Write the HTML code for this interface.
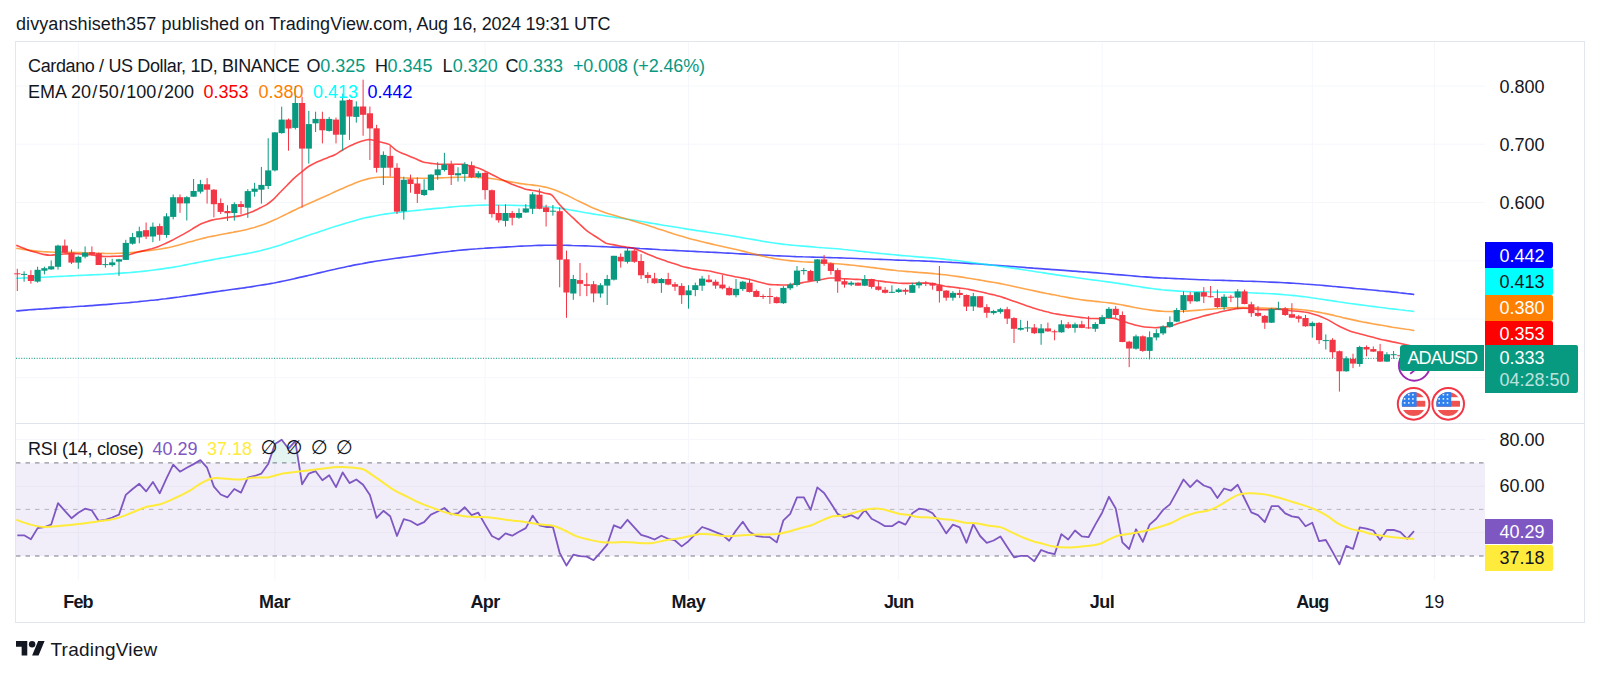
<!DOCTYPE html>
<html><head><meta charset="utf-8"><title>ADAUSD chart</title>
<style>
html,body{margin:0;padding:0;background:#fff;}
body{width:1600px;height:675px;position:relative;overflow:hidden;font-family:"Liberation Sans",sans-serif;color:#131722;}
.t{position:absolute;white-space:nowrap;font-size:18px;line-height:22px;}
.t i{font-style:normal;padding:0 1.3px;}
.nl{font-size:19.5px;top:437.1px;transform:translateX(-50%);font-family:"DejaVu Sans",sans-serif;}
.frame{position:absolute;left:15px;top:41px;width:1568px;height:580px;border:1px solid #e3e6ed;}
svg.chart{position:absolute;left:0;top:0;}
.lbl{position:absolute;left:1485px;width:68px;height:26px;line-height:26px;font-size:18px;color:#fff;border-radius:0 2px 2px 0;}
.lbl span{position:absolute;left:14.5px;top:0.8px;}
.ax{position:absolute;left:1499.5px;font-size:18px;line-height:22px;white-space:nowrap;}
.mon{position:absolute;font-size:18px;font-weight:bold;line-height:22px;top:591px;transform:translateX(-50%);white-space:nowrap;}
</style></head><body>
<div class="t" id="hdr" style="left:16px;top:13px;letter-spacing:0.08px;">divyanshiseth357 published on TradingView.com,</div>
<div class="t" id="hdr2" style="left:416.5px;top:13px;letter-spacing:-0.24px;">Aug 16, 2024 19:31 UTC</div>
<div class="frame"></div>
<svg class="chart" width="1600" height="675" viewBox="0 0 1600 675">
<line x1="16" x2="1485" y1="86" y2="86" stroke="#f5f7fb" stroke-width="1"/>
<line x1="16" x2="1485" y1="144.2" y2="144.2" stroke="#f5f7fb" stroke-width="1"/>
<line x1="16" x2="1485" y1="202.5" y2="202.5" stroke="#f5f7fb" stroke-width="1"/>
<line x1="16" x2="1485" y1="260.8" y2="260.8" stroke="#f5f7fb" stroke-width="1"/>
<line x1="16" x2="1485" y1="319" y2="319" stroke="#f5f7fb" stroke-width="1"/>
<line x1="16" x2="1485" y1="377.5" y2="377.5" stroke="#f5f7fb" stroke-width="1"/>
<line x1="16" x2="1485" y1="439.6" y2="439.6" stroke="#f5f7fb" stroke-width="1"/>
<line x1="16" x2="1485" y1="486.2" y2="486.2" stroke="#f5f7fb" stroke-width="1"/>
<line x1="16" x2="1485" y1="532.7" y2="532.7" stroke="#f5f7fb" stroke-width="1"/>
<line x1="78.3" x2="78.3" y1="42" y2="580" stroke="#f5f7fb" stroke-width="1"/>
<line x1="274.9" x2="274.9" y1="42" y2="580" stroke="#f5f7fb" stroke-width="1"/>
<line x1="485.1" x2="485.1" y1="42" y2="580" stroke="#f5f7fb" stroke-width="1"/>
<line x1="688.5" x2="688.5" y1="42" y2="580" stroke="#f5f7fb" stroke-width="1"/>
<line x1="898.7" x2="898.7" y1="42" y2="580" stroke="#f5f7fb" stroke-width="1"/>
<line x1="1102.1" x2="1102.1" y1="42" y2="580" stroke="#f5f7fb" stroke-width="1"/>
<line x1="1312.3" x2="1312.3" y1="42" y2="580" stroke="#f5f7fb" stroke-width="1"/>
<line x1="1434.3" x2="1434.3" y1="42" y2="580" stroke="#f5f7fb" stroke-width="1"/>
<line x1="16" x2="1584" y1="423.5" y2="423.5" stroke="#e0e3eb" stroke-width="1"/>
<rect x="16" y="462.9" width="1469" height="93.1" fill="#7e57c2" fill-opacity="0.1"/>
<line x1="16" x2="1485" y1="462.9" y2="462.9" stroke="#787b86" stroke-width="1" stroke-dasharray="4.5,5"/>
<line x1="16" x2="1485" y1="509.4" y2="509.4" stroke="#787b86" stroke-opacity="0.5" stroke-width="1" stroke-dasharray="4.5,5"/>
<line x1="16" x2="1485" y1="556.0" y2="556.0" stroke="#787b86" stroke-width="1" stroke-dasharray="4.5,5"/>
<line x1="16" x2="1400" y1="358.3" y2="358.3" stroke="#089981" stroke-width="1" stroke-dasharray="1.1,1.48"/>
<path d="M16.2,310.9 C17.4,310.9 20.8,310.6 23.0,310.4 C25.3,310.2 27.5,310.0 29.8,309.8 C32.1,309.7 34.3,309.5 36.6,309.3 C38.8,309.2 41.1,309.0 43.4,308.9 C45.6,308.7 47.9,308.5 50.1,308.4 C52.4,308.2 54.7,308.1 56.9,307.9 C59.2,307.7 61.4,307.6 63.7,307.4 C66.0,307.3 68.2,307.1 70.5,307.0 C72.7,306.8 75.0,306.7 77.3,306.5 C79.5,306.4 81.8,306.2 84.0,306.1 C86.3,305.9 88.6,305.8 90.8,305.6 C93.1,305.4 95.3,305.3 97.6,305.1 C99.9,305.0 102.1,304.8 104.4,304.6 C106.6,304.4 108.9,304.3 111.2,304.1 C113.4,303.9 115.7,303.7 117.9,303.5 C120.2,303.4 122.5,303.2 124.7,303.0 C127.0,302.8 129.2,302.6 131.5,302.4 C133.8,302.2 136.0,301.9 138.3,301.7 C140.5,301.5 142.8,301.3 145.1,301.0 C147.3,300.8 149.6,300.6 151.8,300.3 C154.1,300.1 156.4,299.8 158.6,299.6 C160.9,299.3 163.1,299.0 165.4,298.8 C167.7,298.5 169.9,298.2 172.2,297.9 C174.4,297.6 176.7,297.3 179.0,297.0 C181.2,296.7 183.5,296.4 185.7,296.1 C188.0,295.8 190.3,295.4 192.5,295.1 C194.8,294.8 197.0,294.5 199.3,294.1 C201.6,293.8 203.8,293.4 206.1,293.1 C208.3,292.8 210.6,292.4 212.9,292.1 C215.1,291.8 217.4,291.5 219.6,291.2 C221.9,290.9 224.2,290.5 226.4,290.2 C228.7,289.9 230.9,289.6 233.2,289.3 C235.5,289.0 237.7,288.7 240.0,288.4 C242.2,288.1 244.5,287.8 246.8,287.4 C249.0,287.1 251.3,286.8 253.5,286.4 C255.8,286.1 258.1,285.7 260.3,285.3 C262.6,285.0 264.8,284.6 267.1,284.2 C269.4,283.8 271.6,283.4 273.9,283.0 C276.1,282.5 278.4,282.1 280.7,281.6 C282.9,281.2 285.2,280.7 287.4,280.2 C289.7,279.7 292.0,279.2 294.2,278.7 C296.5,278.2 298.7,277.6 301.0,277.1 C303.3,276.6 305.5,276.1 307.8,275.6 C310.0,275.0 312.3,274.5 314.6,274.0 C316.8,273.4 319.1,272.9 321.3,272.4 C323.6,271.9 325.9,271.3 328.1,270.8 C330.4,270.3 332.6,269.8 334.9,269.3 C337.2,268.7 339.4,268.2 341.7,267.7 C343.9,267.2 346.2,266.8 348.5,266.3 C350.7,265.8 353.0,265.4 355.2,264.9 C357.5,264.5 359.8,264.1 362.0,263.7 C364.3,263.2 366.5,262.8 368.8,262.4 C371.1,262.0 373.3,261.7 375.6,261.3 C377.8,260.9 380.1,260.6 382.4,260.2 C384.6,259.9 386.9,259.5 389.1,259.2 C391.4,258.9 393.7,258.6 395.9,258.3 C398.2,258.0 400.4,257.7 402.7,257.4 C405.0,257.1 407.2,256.8 409.5,256.5 C411.7,256.2 414.0,255.9 416.3,255.6 C418.5,255.3 420.8,255.0 423.0,254.7 C425.3,254.4 427.6,254.1 429.8,253.8 C432.1,253.5 434.3,253.2 436.6,252.9 C438.9,252.6 441.1,252.3 443.4,252.0 C445.6,251.8 447.9,251.5 450.2,251.3 C452.4,251.0 454.7,250.8 456.9,250.5 C459.2,250.3 461.5,250.1 463.7,249.9 C466.0,249.7 468.2,249.5 470.5,249.3 C472.8,249.1 475.0,248.9 477.3,248.8 C479.5,248.6 481.8,248.4 484.1,248.3 C486.3,248.1 488.6,248.0 490.8,247.9 C493.1,247.7 495.4,247.6 497.6,247.5 C499.9,247.3 502.1,247.2 504.4,247.1 C506.7,247.0 508.9,246.8 511.2,246.7 C513.4,246.6 515.7,246.5 518.0,246.3 C520.2,246.2 522.5,246.1 524.7,246.0 C527.0,245.9 529.3,245.8 531.5,245.7 C533.8,245.6 536.0,245.5 538.3,245.4 C540.6,245.4 542.8,245.3 545.1,245.3 C547.3,245.2 549.6,245.2 551.9,245.2 C554.1,245.2 556.4,245.2 558.6,245.2 C560.9,245.3 563.2,245.3 565.4,245.3 C567.7,245.4 569.9,245.4 572.2,245.5 C574.5,245.5 576.7,245.6 579.0,245.7 C581.2,245.7 583.5,245.8 585.8,245.9 C588.0,246.0 590.3,246.1 592.5,246.2 C594.8,246.3 597.1,246.4 599.3,246.5 C601.6,246.6 603.8,246.7 606.1,246.8 C608.4,246.9 610.6,247.0 612.9,247.1 C615.1,247.2 617.4,247.3 619.7,247.4 C621.9,247.5 624.2,247.6 626.4,247.7 C628.7,247.8 631.0,248.0 633.2,248.1 C635.5,248.2 637.7,248.3 640.0,248.5 C642.3,248.6 644.5,248.7 646.8,248.9 C649.0,249.0 651.3,249.1 653.6,249.3 C655.8,249.4 658.1,249.5 660.3,249.7 C662.6,249.8 664.9,249.9 667.1,250.1 C669.4,250.2 671.6,250.3 673.9,250.4 C676.2,250.5 678.4,250.7 680.7,250.8 C682.9,250.9 685.2,251.0 687.5,251.1 C689.7,251.2 692.0,251.3 694.2,251.4 C696.5,251.6 698.8,251.7 701.0,251.8 C703.3,251.9 705.5,252.0 707.8,252.1 C710.1,252.2 712.3,252.3 714.6,252.4 C716.8,252.5 719.1,252.6 721.4,252.7 C723.6,252.9 725.9,253.0 728.1,253.1 C730.4,253.2 732.7,253.4 734.9,253.5 C737.2,253.6 739.4,253.8 741.7,253.9 C744.0,254.0 746.2,254.1 748.5,254.3 C750.7,254.4 753.0,254.5 755.3,254.6 C757.5,254.8 759.8,254.9 762.0,255.0 C764.3,255.1 766.6,255.2 768.8,255.3 C771.1,255.5 773.3,255.6 775.6,255.7 C777.9,255.8 780.1,255.9 782.4,256.0 C784.6,256.1 786.9,256.2 789.2,256.3 C791.4,256.4 793.7,256.5 795.9,256.6 C798.2,256.6 800.5,256.7 802.7,256.8 C805.0,256.8 807.2,256.9 809.5,257.0 C811.8,257.1 814.0,257.1 816.3,257.2 C818.5,257.3 820.8,257.3 823.1,257.4 C825.3,257.5 827.6,257.5 829.8,257.6 C832.1,257.7 834.4,257.7 836.6,257.8 C838.9,257.9 841.1,257.9 843.4,258.0 C845.7,258.1 847.9,258.2 850.2,258.2 C852.4,258.3 854.7,258.4 857.0,258.5 C859.2,258.6 861.5,258.7 863.7,258.7 C866.0,258.8 868.3,258.9 870.5,259.0 C872.8,259.1 875.0,259.2 877.3,259.2 C879.6,259.3 881.8,259.4 884.1,259.5 C886.3,259.6 888.6,259.7 890.9,259.8 C893.1,259.9 895.4,260.0 897.6,260.1 C899.9,260.2 902.2,260.2 904.4,260.3 C906.7,260.4 908.9,260.5 911.2,260.6 C913.5,260.7 915.7,260.8 918.0,260.8 C920.2,260.9 922.5,261.0 924.8,261.1 C927.0,261.2 929.3,261.3 931.5,261.4 C933.8,261.5 936.1,261.6 938.3,261.7 C940.6,261.8 942.8,261.9 945.1,262.0 C947.4,262.1 949.6,262.2 951.9,262.4 C954.1,262.5 956.4,262.6 958.7,262.7 C960.9,262.9 963.2,263.0 965.4,263.1 C967.7,263.3 970.0,263.4 972.2,263.6 C974.5,263.7 976.7,263.9 979.0,264.0 C981.3,264.2 983.5,264.3 985.8,264.5 C988.0,264.7 990.3,264.8 992.6,265.0 C994.8,265.1 997.1,265.3 999.3,265.5 C1001.6,265.7 1003.9,265.8 1006.1,266.0 C1008.4,266.2 1010.6,266.3 1012.9,266.5 C1015.2,266.7 1017.4,266.9 1019.7,267.0 C1021.9,267.2 1024.2,267.4 1026.5,267.6 C1028.7,267.7 1031.0,267.9 1033.2,268.1 C1035.5,268.2 1037.8,268.4 1040.0,268.6 C1042.3,268.8 1044.5,268.9 1046.8,269.1 C1049.1,269.3 1051.3,269.4 1053.6,269.6 C1055.8,269.8 1058.1,270.0 1060.4,270.1 C1062.6,270.3 1064.9,270.5 1067.1,270.6 C1069.4,270.8 1071.7,270.9 1073.9,271.1 C1076.2,271.3 1078.4,271.4 1080.7,271.6 C1083.0,271.7 1085.2,271.9 1087.5,272.1 C1089.7,272.3 1092.0,272.4 1094.3,272.6 C1096.5,272.8 1098.8,273.0 1101.0,273.2 C1103.3,273.4 1105.6,273.6 1107.8,273.8 C1110.1,274.0 1112.3,274.2 1114.6,274.4 C1116.9,274.5 1119.1,274.7 1121.4,274.9 C1123.6,275.1 1125.9,275.3 1128.2,275.5 C1130.4,275.7 1132.7,275.9 1134.9,276.1 C1137.2,276.3 1139.5,276.5 1141.7,276.7 C1144.0,276.8 1146.2,277.0 1148.5,277.1 C1150.8,277.3 1153.0,277.4 1155.3,277.6 C1157.5,277.7 1159.8,277.8 1162.1,278.0 C1164.3,278.1 1166.6,278.2 1168.8,278.3 C1171.1,278.4 1173.4,278.5 1175.6,278.6 C1177.9,278.7 1180.1,278.8 1182.4,278.9 C1184.7,279.0 1186.9,279.1 1189.2,279.2 C1191.4,279.3 1193.7,279.4 1196.0,279.5 C1198.2,279.6 1200.5,279.7 1202.7,279.7 C1205.0,279.8 1207.3,279.9 1209.5,280.0 C1211.8,280.0 1214.0,280.1 1216.3,280.2 C1218.6,280.3 1220.8,280.3 1223.1,280.4 C1225.3,280.5 1227.6,280.5 1229.9,280.6 C1232.1,280.7 1234.4,280.8 1236.6,280.8 C1238.9,280.9 1241.2,281.0 1243.4,281.1 C1245.7,281.1 1247.9,281.2 1250.2,281.3 C1252.5,281.4 1254.7,281.4 1257.0,281.5 C1259.2,281.6 1261.5,281.7 1263.8,281.8 C1266.0,281.9 1268.3,282.0 1270.5,282.1 C1272.8,282.2 1275.1,282.3 1277.3,282.4 C1279.6,282.5 1281.8,282.6 1284.1,282.7 C1286.4,282.8 1288.6,283.0 1290.9,283.1 C1293.1,283.2 1295.4,283.4 1297.7,283.5 C1299.9,283.7 1302.2,283.8 1304.4,284.0 C1306.7,284.1 1309.0,284.3 1311.2,284.5 C1313.5,284.7 1315.7,284.8 1318.0,285.0 C1320.3,285.2 1322.5,285.4 1324.8,285.6 C1327.0,285.8 1329.3,286.0 1331.6,286.2 C1333.8,286.4 1336.1,286.7 1338.3,286.9 C1340.6,287.1 1342.9,287.3 1345.1,287.5 C1347.4,287.7 1349.6,287.9 1351.9,288.1 C1354.2,288.3 1356.4,288.6 1358.7,288.8 C1360.9,289.0 1363.2,289.2 1365.5,289.4 C1367.7,289.6 1370.0,289.8 1372.2,290.0 C1374.5,290.3 1376.8,290.5 1379.0,290.7 C1381.3,290.9 1383.5,291.2 1385.8,291.4 C1388.1,291.6 1390.3,291.8 1392.6,292.1 C1394.8,292.3 1397.1,292.5 1399.4,292.8 C1401.6,293.0 1403.9,293.3 1406.1,293.5 C1408.4,293.8 1411.6,294.1 1412.9,294.3 C1414.3,294.5 1414.0,294.6 1414.2,294.7" fill="none" stroke="#0000ff" stroke-opacity="0.7" stroke-width="1.6" stroke-linejoin="round"/>
<path d="M16.2,278.2 C17.4,278.2 20.8,278.1 23.0,278.0 C25.3,277.9 27.5,277.8 29.8,277.7 C32.1,277.6 34.3,277.5 36.6,277.4 C38.8,277.3 41.1,277.3 43.4,277.2 C45.6,277.1 47.9,277.0 50.1,276.9 C52.4,276.7 54.7,276.6 56.9,276.5 C59.2,276.4 61.4,276.3 63.7,276.2 C66.0,276.1 68.2,276.0 70.5,275.9 C72.7,275.8 75.0,275.6 77.3,275.5 C79.5,275.4 81.8,275.3 84.0,275.2 C86.3,275.1 88.6,275.0 90.8,274.9 C93.1,274.8 95.3,274.7 97.6,274.6 C99.9,274.5 102.1,274.4 104.4,274.2 C106.6,274.1 108.9,274.0 111.2,273.9 C113.4,273.7 115.7,273.6 117.9,273.4 C120.2,273.3 122.5,273.1 124.7,272.9 C127.0,272.8 129.2,272.6 131.5,272.4 C133.8,272.2 136.0,272.0 138.3,271.8 C140.5,271.6 142.8,271.4 145.1,271.1 C147.3,270.9 149.6,270.6 151.8,270.3 C154.1,270.0 156.4,269.7 158.6,269.4 C160.9,269.1 163.1,268.8 165.4,268.4 C167.7,268.1 169.9,267.7 172.2,267.4 C174.4,267.0 176.7,266.6 179.0,266.2 C181.2,265.8 183.5,265.3 185.7,264.9 C188.0,264.5 190.3,264.0 192.5,263.5 C194.8,263.1 197.0,262.6 199.3,262.2 C201.6,261.8 203.8,261.3 206.1,260.9 C208.3,260.5 210.6,260.1 212.9,259.6 C215.1,259.2 217.4,258.8 219.6,258.4 C221.9,258.0 224.2,257.6 226.4,257.2 C228.7,256.8 230.9,256.4 233.2,256.0 C235.5,255.6 237.7,255.2 240.0,254.8 C242.2,254.4 244.5,254.0 246.8,253.6 C249.0,253.2 251.3,252.7 253.5,252.2 C255.8,251.7 258.1,251.2 260.3,250.7 C262.6,250.1 264.8,249.5 267.1,248.9 C269.4,248.3 271.6,247.7 273.9,247.0 C276.1,246.3 278.4,245.6 280.7,244.9 C282.9,244.1 285.2,243.4 287.4,242.6 C289.7,241.9 292.0,241.0 294.2,240.3 C296.5,239.5 298.7,238.7 301.0,237.9 C303.3,237.1 305.5,236.3 307.8,235.6 C310.0,234.8 312.3,234.0 314.6,233.3 C316.8,232.5 319.1,231.8 321.3,231.0 C323.6,230.3 325.9,229.5 328.1,228.8 C330.4,228.0 332.6,227.3 334.9,226.6 C337.2,225.9 339.4,225.2 341.7,224.5 C343.9,223.8 346.2,223.0 348.5,222.4 C350.7,221.7 353.0,221.1 355.2,220.4 C357.5,219.8 359.8,219.2 362.0,218.6 C364.3,218.1 366.5,217.5 368.8,217.1 C371.1,216.6 373.3,216.1 375.6,215.7 C377.8,215.3 380.1,214.9 382.4,214.5 C384.6,214.1 386.9,213.8 389.1,213.5 C391.4,213.2 393.7,212.9 395.9,212.6 C398.2,212.4 400.4,212.1 402.7,211.8 C405.0,211.6 407.2,211.4 409.5,211.1 C411.7,210.9 414.0,210.6 416.3,210.4 C418.5,210.2 420.8,210.0 423.0,209.8 C425.3,209.5 427.6,209.3 429.8,209.1 C432.1,208.9 434.3,208.7 436.6,208.4 C438.9,208.2 441.1,208.0 443.4,207.8 C445.6,207.5 447.9,207.3 450.2,207.1 C452.4,206.9 454.7,206.7 456.9,206.5 C459.2,206.4 461.5,206.2 463.7,206.0 C466.0,205.8 468.2,205.7 470.5,205.6 C472.8,205.5 475.0,205.4 477.3,205.3 C479.5,205.2 481.8,205.1 484.1,205.1 C486.3,205.1 488.6,205.0 490.8,205.0 C493.1,205.0 495.4,205.0 497.6,205.1 C499.9,205.1 502.1,205.1 504.4,205.2 C506.7,205.2 508.9,205.3 511.2,205.3 C513.4,205.4 515.7,205.4 518.0,205.5 C520.2,205.5 522.5,205.5 524.7,205.6 C527.0,205.6 529.3,205.7 531.5,205.8 C533.8,205.9 536.0,206.0 538.3,206.1 C540.6,206.2 542.8,206.4 545.1,206.6 C547.3,206.8 549.6,207.0 551.9,207.2 C554.1,207.5 556.4,207.8 558.6,208.1 C560.9,208.4 563.2,208.7 565.4,209.1 C567.7,209.5 569.9,209.9 572.2,210.3 C574.5,210.7 576.7,211.1 579.0,211.5 C581.2,211.9 583.5,212.3 585.8,212.7 C588.0,213.1 590.3,213.5 592.5,213.9 C594.8,214.2 597.1,214.6 599.3,214.9 C601.6,215.3 603.8,215.7 606.1,216.0 C608.4,216.3 610.6,216.7 612.9,217.0 C615.1,217.3 617.4,217.6 619.7,218.0 C621.9,218.3 624.2,218.7 626.4,219.0 C628.7,219.4 631.0,219.7 633.2,220.1 C635.5,220.5 637.7,220.9 640.0,221.2 C642.3,221.6 644.5,222.0 646.8,222.4 C649.0,222.8 651.3,223.2 653.6,223.5 C655.8,223.9 658.1,224.3 660.3,224.7 C662.6,225.1 664.9,225.5 667.1,225.8 C669.4,226.2 671.6,226.6 673.9,226.9 C676.2,227.3 678.4,227.7 680.7,228.0 C682.9,228.4 685.2,228.7 687.5,229.1 C689.7,229.4 692.0,229.8 694.2,230.1 C696.5,230.5 698.8,230.8 701.0,231.1 C703.3,231.5 705.5,231.8 707.8,232.2 C710.1,232.5 712.3,232.9 714.6,233.2 C716.8,233.6 719.1,233.9 721.4,234.3 C723.6,234.6 725.9,235.0 728.1,235.3 C730.4,235.7 732.7,236.1 734.9,236.4 C737.2,236.8 739.4,237.2 741.7,237.6 C744.0,238.0 746.2,238.4 748.5,238.8 C750.7,239.2 753.0,239.5 755.3,239.9 C757.5,240.3 759.8,240.7 762.0,241.1 C764.3,241.4 766.6,241.8 768.8,242.2 C771.1,242.5 773.3,242.9 775.6,243.2 C777.9,243.5 780.1,243.8 782.4,244.1 C784.6,244.4 786.9,244.6 789.2,244.9 C791.4,245.1 793.7,245.3 795.9,245.5 C798.2,245.7 800.5,245.9 802.7,246.1 C805.0,246.3 807.2,246.5 809.5,246.6 C811.8,246.8 814.0,247.0 816.3,247.2 C818.5,247.3 820.8,247.5 823.1,247.7 C825.3,247.8 827.6,248.0 829.8,248.2 C832.1,248.4 834.4,248.6 836.6,248.8 C838.9,249.0 841.1,249.2 843.4,249.5 C845.7,249.7 847.9,249.9 850.2,250.2 C852.4,250.4 854.7,250.6 857.0,250.9 C859.2,251.1 861.5,251.4 863.7,251.6 C866.0,251.9 868.3,252.1 870.5,252.4 C872.8,252.6 875.0,252.9 877.3,253.1 C879.6,253.3 881.8,253.6 884.1,253.8 C886.3,254.0 888.6,254.3 890.9,254.5 C893.1,254.7 895.4,254.9 897.6,255.1 C899.9,255.3 902.2,255.6 904.4,255.7 C906.7,255.9 908.9,256.1 911.2,256.3 C913.5,256.5 915.7,256.7 918.0,256.9 C920.2,257.0 922.5,257.2 924.8,257.4 C927.0,257.5 929.3,257.7 931.5,257.9 C933.8,258.1 936.1,258.3 938.3,258.5 C940.6,258.7 942.8,259.0 945.1,259.2 C947.4,259.5 949.6,259.7 951.9,260.0 C954.1,260.2 956.4,260.5 958.7,260.8 C960.9,261.1 963.2,261.4 965.4,261.7 C967.7,262.0 970.0,262.3 972.2,262.6 C974.5,262.9 976.7,263.2 979.0,263.5 C981.3,263.8 983.5,264.1 985.8,264.4 C988.0,264.7 990.3,265.0 992.6,265.3 C994.8,265.6 997.1,265.9 999.3,266.2 C1001.6,266.5 1003.9,266.8 1006.1,267.1 C1008.4,267.4 1010.6,267.8 1012.9,268.1 C1015.2,268.4 1017.4,268.8 1019.7,269.1 C1021.9,269.5 1024.2,269.8 1026.5,270.2 C1028.7,270.5 1031.0,270.9 1033.2,271.2 C1035.5,271.6 1037.8,272.0 1040.0,272.3 C1042.3,272.7 1044.5,273.0 1046.8,273.4 C1049.1,273.7 1051.3,274.1 1053.6,274.4 C1055.8,274.8 1058.1,275.1 1060.4,275.4 C1062.6,275.7 1064.9,276.1 1067.1,276.4 C1069.4,276.7 1071.7,277.0 1073.9,277.3 C1076.2,277.7 1078.4,278.0 1080.7,278.3 C1083.0,278.6 1085.2,278.9 1087.5,279.2 C1089.7,279.5 1092.0,279.8 1094.3,280.1 C1096.5,280.4 1098.8,280.7 1101.0,281.0 C1103.3,281.3 1105.6,281.6 1107.8,281.9 C1110.1,282.2 1112.3,282.5 1114.6,282.9 C1116.9,283.2 1119.1,283.5 1121.4,283.9 C1123.6,284.2 1125.9,284.6 1128.2,284.9 C1130.4,285.3 1132.7,285.7 1134.9,286.0 C1137.2,286.4 1139.5,286.7 1141.7,287.1 C1144.0,287.4 1146.2,287.8 1148.5,288.1 C1150.8,288.4 1153.0,288.7 1155.3,289.0 C1157.5,289.3 1159.8,289.5 1162.1,289.8 C1164.3,290.0 1166.6,290.2 1168.8,290.4 C1171.1,290.6 1173.4,290.8 1175.6,290.9 C1177.9,291.1 1180.1,291.2 1182.4,291.3 C1184.7,291.4 1186.9,291.5 1189.2,291.6 C1191.4,291.7 1193.7,291.7 1196.0,291.8 C1198.2,291.9 1200.5,291.9 1202.7,291.9 C1205.0,292.0 1207.3,292.0 1209.5,292.0 C1211.8,292.1 1214.0,292.1 1216.3,292.1 C1218.6,292.2 1220.8,292.2 1223.1,292.2 C1225.3,292.3 1227.6,292.3 1229.9,292.3 C1232.1,292.4 1234.4,292.4 1236.6,292.5 C1238.9,292.5 1241.2,292.6 1243.4,292.6 C1245.7,292.7 1247.9,292.8 1250.2,292.8 C1252.5,292.9 1254.7,293.0 1257.0,293.1 C1259.2,293.2 1261.5,293.2 1263.8,293.4 C1266.0,293.5 1268.3,293.6 1270.5,293.7 C1272.8,293.8 1275.1,294.0 1277.3,294.1 C1279.6,294.3 1281.8,294.5 1284.1,294.7 C1286.4,294.9 1288.6,295.1 1290.9,295.3 C1293.1,295.5 1295.4,295.7 1297.7,296.0 C1299.9,296.3 1302.2,296.5 1304.4,296.8 C1306.7,297.1 1309.0,297.4 1311.2,297.8 C1313.5,298.1 1315.7,298.4 1318.0,298.8 C1320.3,299.1 1322.5,299.4 1324.8,299.8 C1327.0,300.1 1329.3,300.4 1331.6,300.8 C1333.8,301.1 1336.1,301.4 1338.3,301.8 C1340.6,302.1 1342.9,302.4 1345.1,302.7 C1347.4,303.1 1349.6,303.4 1351.9,303.7 C1354.2,304.0 1356.4,304.3 1358.7,304.6 C1360.9,304.9 1363.2,305.2 1365.5,305.5 C1367.7,305.8 1370.0,306.1 1372.2,306.4 C1374.5,306.7 1376.8,307.0 1379.0,307.3 C1381.3,307.5 1383.5,307.8 1385.8,308.1 C1388.1,308.4 1390.3,308.7 1392.6,308.9 C1394.8,309.2 1397.1,309.4 1399.4,309.7 C1401.6,309.9 1403.9,310.2 1406.1,310.5 C1408.4,310.7 1411.6,311.0 1412.9,311.2 C1414.3,311.4 1414.0,311.6 1414.2,311.6" fill="none" stroke="#00ffff" stroke-opacity="0.7" stroke-width="1.6" stroke-linejoin="round"/>
<path d="M16.2,248.2 C17.4,248.4 20.8,249.1 23.0,249.4 C25.3,249.8 27.5,250.0 29.8,250.3 C32.1,250.6 34.3,250.9 36.6,251.1 C38.8,251.3 41.1,251.5 43.4,251.7 C45.6,251.8 47.9,251.9 50.1,252.0 C52.4,252.1 54.7,252.2 56.9,252.2 C59.2,252.3 61.4,252.3 63.7,252.3 C66.0,252.4 68.2,252.4 70.5,252.4 C72.7,252.5 75.0,252.5 77.3,252.5 C79.5,252.6 81.8,252.6 84.0,252.7 C86.3,252.7 88.6,252.8 90.8,252.9 C93.1,253.0 95.3,253.1 97.6,253.2 C99.9,253.2 102.1,253.3 104.4,253.4 C106.6,253.4 108.9,253.5 111.2,253.5 C113.4,253.5 115.7,253.4 117.9,253.3 C120.2,253.3 122.5,253.1 124.7,253.0 C127.0,252.8 129.2,252.7 131.5,252.5 C133.8,252.3 136.0,252.0 138.3,251.7 C140.5,251.5 142.8,251.3 145.1,251.0 C147.3,250.8 149.6,250.5 151.8,250.2 C154.1,249.9 156.4,249.6 158.6,249.3 C160.9,248.9 163.1,248.5 165.4,248.1 C167.7,247.7 169.9,247.2 172.2,246.7 C174.4,246.2 176.7,245.6 179.0,245.0 C181.2,244.4 183.5,243.7 185.7,243.1 C188.0,242.4 190.3,241.8 192.5,241.2 C194.8,240.5 197.0,239.9 199.3,239.3 C201.6,238.7 203.8,238.1 206.1,237.6 C208.3,237.0 210.6,236.6 212.9,236.1 C215.1,235.6 217.4,235.2 219.6,234.8 C221.9,234.4 224.2,233.9 226.4,233.5 C228.7,233.1 230.9,232.7 233.2,232.3 C235.5,231.8 237.7,231.5 240.0,231.0 C242.2,230.5 244.5,230.0 246.8,229.5 C249.0,228.9 251.3,228.3 253.5,227.7 C255.8,227.1 258.1,226.4 260.3,225.6 C262.6,224.9 264.8,224.0 267.1,223.1 C269.4,222.2 271.6,221.1 273.9,220.1 C276.1,219.1 278.4,218.0 280.7,216.9 C282.9,215.8 285.2,214.7 287.4,213.6 C289.7,212.5 292.0,211.4 294.2,210.3 C296.5,209.2 298.7,208.1 301.0,207.1 C303.3,206.0 305.5,205.0 307.8,204.0 C310.0,203.0 312.3,202.0 314.6,201.0 C316.8,200.0 319.1,198.9 321.3,197.9 C323.6,196.9 325.9,195.9 328.1,194.9 C330.4,193.9 332.6,192.8 334.9,191.8 C337.2,190.8 339.4,189.8 341.7,188.8 C343.9,187.8 346.2,186.7 348.5,185.8 C350.7,184.8 353.0,183.8 355.2,182.9 C357.5,182.0 359.8,181.2 362.0,180.5 C364.3,179.8 366.5,179.1 368.8,178.6 C371.1,178.1 373.3,177.8 375.6,177.5 C377.8,177.2 380.1,177.1 382.4,177.0 C384.6,177.0 386.9,177.0 389.1,177.1 C391.4,177.1 393.7,177.3 395.9,177.4 C398.2,177.5 400.4,177.6 402.7,177.8 C405.0,177.9 407.2,178.0 409.5,178.1 C411.7,178.2 414.0,178.3 416.3,178.3 C418.5,178.3 420.8,178.3 423.0,178.3 C425.3,178.3 427.6,178.3 429.8,178.2 C432.1,178.2 434.3,178.1 436.6,178.0 C438.9,178.0 441.1,177.8 443.4,177.8 C445.6,177.7 447.9,177.6 450.2,177.5 C452.4,177.4 454.7,177.4 456.9,177.3 C459.2,177.3 461.5,177.3 463.7,177.3 C466.0,177.2 468.2,177.2 470.5,177.2 C472.8,177.3 475.0,177.3 477.3,177.4 C479.5,177.5 481.8,177.6 484.1,177.8 C486.3,178.0 488.6,178.2 490.8,178.5 C493.1,178.8 495.4,179.2 497.6,179.5 C499.9,179.9 502.1,180.3 504.4,180.7 C506.7,181.1 508.9,181.5 511.2,181.9 C513.4,182.3 515.7,182.8 518.0,183.1 C520.2,183.5 522.5,183.8 524.7,184.1 C527.0,184.4 529.3,184.6 531.5,184.9 C533.8,185.2 536.0,185.5 538.3,185.8 C540.6,186.2 542.8,186.6 545.1,187.1 C547.3,187.7 549.6,188.4 551.9,189.1 C554.1,189.8 556.4,190.7 558.6,191.6 C560.9,192.5 563.2,193.5 565.4,194.6 C567.7,195.6 569.9,196.8 572.2,197.9 C574.5,199.0 576.7,200.2 579.0,201.3 C581.2,202.4 583.5,203.5 585.8,204.5 C588.0,205.6 590.3,206.7 592.5,207.7 C594.8,208.6 597.1,209.6 599.3,210.5 C601.6,211.3 603.8,212.1 606.1,212.9 C608.4,213.7 610.6,214.4 612.9,215.1 C615.1,215.8 617.4,216.4 619.7,217.0 C621.9,217.7 624.2,218.2 626.4,218.9 C628.7,219.5 631.0,220.2 633.2,220.9 C635.5,221.5 637.7,222.3 640.0,223.0 C642.3,223.7 644.5,224.4 646.8,225.1 C649.0,225.9 651.3,226.6 653.6,227.3 C655.8,228.0 658.1,228.8 660.3,229.5 C662.6,230.2 664.9,231.0 667.1,231.7 C669.4,232.4 671.6,233.2 673.9,233.9 C676.2,234.6 678.4,235.3 680.7,236.0 C682.9,236.6 685.2,237.3 687.5,237.9 C689.7,238.6 692.0,239.2 694.2,239.8 C696.5,240.4 698.8,241.0 701.0,241.5 C703.3,242.1 705.5,242.6 707.8,243.1 C710.1,243.6 712.3,244.2 714.6,244.7 C716.8,245.2 719.1,245.7 721.4,246.2 C723.6,246.7 725.9,247.2 728.1,247.7 C730.4,248.2 732.7,248.7 734.9,249.2 C737.2,249.8 739.4,250.3 741.7,250.9 C744.0,251.4 746.2,252.0 748.5,252.6 C750.7,253.1 753.0,253.7 755.3,254.3 C757.5,254.8 759.8,255.4 762.0,255.9 C764.3,256.5 766.6,257.0 768.8,257.5 C771.1,257.9 773.3,258.4 775.6,258.8 C777.9,259.2 780.1,259.5 782.4,259.8 C784.6,260.1 786.9,260.4 789.2,260.6 C791.4,260.9 793.7,261.1 795.9,261.3 C798.2,261.5 800.5,261.6 802.7,261.8 C805.0,261.9 807.2,262.0 809.5,262.1 C811.8,262.2 814.0,262.3 816.3,262.4 C818.5,262.5 820.8,262.7 823.1,262.8 C825.3,262.9 827.6,263.1 829.8,263.2 C832.1,263.4 834.4,263.5 836.6,263.7 C838.9,263.9 841.1,264.1 843.4,264.3 C845.7,264.5 847.9,264.8 850.2,265.0 C852.4,265.2 854.7,265.5 857.0,265.7 C859.2,266.0 861.5,266.2 863.7,266.5 C866.0,266.8 868.3,267.1 870.5,267.4 C872.8,267.6 875.0,267.9 877.3,268.2 C879.6,268.5 881.8,268.8 884.1,269.1 C886.3,269.4 888.6,269.7 890.9,269.9 C893.1,270.2 895.4,270.4 897.6,270.7 C899.9,270.9 902.2,271.1 904.4,271.3 C906.7,271.5 908.9,271.7 911.2,271.8 C913.5,272.0 915.7,272.2 918.0,272.4 C920.2,272.5 922.5,272.7 924.8,272.9 C927.0,273.1 929.3,273.2 931.5,273.4 C933.8,273.6 936.1,273.9 938.3,274.1 C940.6,274.3 942.8,274.6 945.1,274.8 C947.4,275.1 949.6,275.4 951.9,275.7 C954.1,276.0 956.4,276.3 958.7,276.6 C960.9,277.0 963.2,277.3 965.4,277.7 C967.7,278.1 970.0,278.4 972.2,278.8 C974.5,279.2 976.7,279.6 979.0,279.9 C981.3,280.3 983.5,280.7 985.8,281.1 C988.0,281.4 990.3,281.8 992.6,282.2 C994.8,282.6 997.1,283.0 999.3,283.4 C1001.6,283.9 1003.9,284.3 1006.1,284.8 C1008.4,285.2 1010.6,285.7 1012.9,286.2 C1015.2,286.7 1017.4,287.2 1019.7,287.7 C1021.9,288.2 1024.2,288.7 1026.5,289.2 C1028.7,289.7 1031.0,290.2 1033.2,290.6 C1035.5,291.1 1037.8,291.6 1040.0,292.1 C1042.3,292.5 1044.5,293.0 1046.8,293.5 C1049.1,293.9 1051.3,294.4 1053.6,294.8 C1055.8,295.3 1058.1,295.7 1060.4,296.2 C1062.6,296.6 1064.9,297.0 1067.1,297.4 C1069.4,297.9 1071.7,298.3 1073.9,298.6 C1076.2,299.0 1078.4,299.4 1080.7,299.7 C1083.0,300.0 1085.2,300.3 1087.5,300.6 C1089.7,300.8 1092.0,301.0 1094.3,301.3 C1096.5,301.5 1098.8,301.7 1101.0,302.0 C1103.3,302.2 1105.6,302.4 1107.8,302.7 C1110.1,303.0 1112.3,303.3 1114.6,303.6 C1116.9,304.0 1119.1,304.4 1121.4,304.8 C1123.6,305.2 1125.9,305.7 1128.2,306.1 C1130.4,306.6 1132.7,307.0 1134.9,307.5 C1137.2,307.9 1139.5,308.4 1141.7,308.8 C1144.0,309.1 1146.2,309.5 1148.5,309.8 C1150.8,310.1 1153.0,310.4 1155.3,310.6 C1157.5,310.9 1159.8,311.1 1162.1,311.2 C1164.3,311.4 1166.6,311.5 1168.8,311.5 C1171.1,311.6 1173.4,311.6 1175.6,311.6 C1177.9,311.5 1180.1,311.4 1182.4,311.3 C1184.7,311.2 1186.9,311.1 1189.2,310.9 C1191.4,310.8 1193.7,310.6 1196.0,310.4 C1198.2,310.2 1200.5,310.0 1202.7,309.8 C1205.0,309.6 1207.3,309.4 1209.5,309.2 C1211.8,309.0 1214.0,308.9 1216.3,308.7 C1218.6,308.5 1220.8,308.3 1223.1,308.2 C1225.3,308.1 1227.6,308.0 1229.9,307.9 C1232.1,307.8 1234.4,307.7 1236.6,307.6 C1238.9,307.6 1241.2,307.6 1243.4,307.6 C1245.7,307.6 1247.9,307.6 1250.2,307.7 C1252.5,307.7 1254.7,307.8 1257.0,307.9 C1259.2,308.0 1261.5,308.0 1263.8,308.1 C1266.0,308.2 1268.3,308.3 1270.5,308.3 C1272.8,308.4 1275.1,308.4 1277.3,308.5 C1279.6,308.5 1281.8,308.6 1284.1,308.7 C1286.4,308.7 1288.6,308.8 1290.9,308.9 C1293.1,309.0 1295.4,309.2 1297.7,309.4 C1299.9,309.5 1302.2,309.8 1304.4,310.0 C1306.7,310.3 1309.0,310.6 1311.2,310.9 C1313.5,311.3 1315.7,311.7 1318.0,312.1 C1320.3,312.5 1322.5,313.0 1324.8,313.4 C1327.0,313.9 1329.3,314.4 1331.6,314.9 C1333.8,315.4 1336.1,316.0 1338.3,316.5 C1340.6,317.0 1342.9,317.6 1345.1,318.1 C1347.4,318.6 1349.6,319.1 1351.9,319.6 C1354.2,320.1 1356.4,320.6 1358.7,321.1 C1360.9,321.5 1363.2,322.0 1365.5,322.4 C1367.7,322.9 1370.0,323.3 1372.2,323.7 C1374.5,324.1 1376.8,324.5 1379.0,324.9 C1381.3,325.3 1383.5,325.7 1385.8,326.0 C1388.1,326.4 1390.3,326.8 1392.6,327.2 C1394.8,327.5 1397.1,328.0 1399.4,328.3 C1401.6,328.7 1403.9,328.9 1406.1,329.3 C1408.4,329.6 1411.6,330.1 1412.9,330.3 C1414.3,330.6 1414.0,330.8 1414.2,330.9" fill="none" stroke="#ff8000" stroke-opacity="0.7" stroke-width="1.6" stroke-linejoin="round"/>
<path d="M16.2,245.2 C17.4,245.7 20.8,247.1 23.0,248.0 C25.3,249.0 27.5,250.0 29.8,250.7 C32.1,251.5 34.3,251.9 36.6,252.5 C38.8,253.1 41.1,253.9 43.4,254.4 C45.6,254.8 47.9,255.2 50.1,255.3 C52.4,255.3 54.7,254.7 56.9,254.5 C59.2,254.3 61.4,254.1 63.7,254.0 C66.0,253.9 68.2,253.7 70.5,253.7 C72.7,253.6 75.0,253.6 77.3,253.7 C79.5,253.8 81.8,254.0 84.0,254.2 C86.3,254.4 88.6,254.5 90.8,254.8 C93.1,255.0 95.3,255.4 97.6,255.7 C99.9,256.0 102.1,256.4 104.4,256.5 C106.6,256.6 108.9,256.4 111.2,256.4 C113.4,256.3 115.7,256.3 117.9,256.2 C120.2,256.1 122.5,256.2 124.7,255.8 C127.0,255.4 129.2,254.6 131.5,254.0 C133.8,253.3 136.0,252.7 138.3,252.1 C140.5,251.5 142.8,250.9 145.1,250.4 C147.3,249.8 149.6,249.3 151.8,248.7 C154.1,248.0 156.4,247.4 158.6,246.5 C160.9,245.7 163.1,244.6 165.4,243.5 C167.7,242.5 169.9,241.5 172.2,240.3 C174.4,239.1 176.7,237.8 179.0,236.6 C181.2,235.4 183.5,234.2 185.7,232.9 C188.0,231.6 190.3,230.2 192.5,228.8 C194.8,227.5 197.0,225.9 199.3,224.7 C201.6,223.6 203.8,222.9 206.1,222.0 C208.3,221.2 210.6,220.4 212.9,219.9 C215.1,219.3 217.4,219.1 219.6,218.7 C221.9,218.3 224.2,217.9 226.4,217.6 C228.7,217.3 230.9,217.0 233.2,216.7 C235.5,216.5 237.7,216.4 240.0,215.9 C242.2,215.4 244.5,214.5 246.8,213.7 C249.0,212.9 251.3,212.2 253.5,211.2 C255.8,210.2 258.1,208.9 260.3,207.8 C262.6,206.6 264.8,205.8 267.1,204.3 C269.4,202.9 271.6,201.0 273.9,198.9 C276.1,196.8 278.4,194.1 280.7,191.8 C282.9,189.5 285.2,187.2 287.4,185.0 C289.7,182.7 292.0,180.3 294.2,178.2 C296.5,176.2 298.7,174.4 301.0,172.5 C303.3,170.6 305.5,168.5 307.8,167.0 C310.0,165.4 312.3,164.3 314.6,163.2 C316.8,162.1 319.1,161.2 321.3,160.2 C323.6,159.3 325.9,158.5 328.1,157.6 C330.4,156.6 332.6,155.9 334.9,154.7 C337.2,153.6 339.4,151.8 341.7,150.5 C343.9,149.1 346.2,147.8 348.5,146.6 C350.7,145.5 353.0,144.6 355.2,143.6 C357.5,142.7 359.8,141.7 362.0,141.0 C364.3,140.3 366.5,139.6 368.8,139.5 C371.1,139.5 373.3,140.3 375.6,140.8 C377.8,141.3 380.1,141.9 382.4,142.5 C384.6,143.1 386.9,143.2 389.1,144.4 C391.4,145.7 393.7,148.7 395.9,150.2 C398.2,151.7 400.4,152.4 402.7,153.4 C405.0,154.4 407.2,155.3 409.5,156.3 C411.7,157.2 414.0,158.2 416.3,159.1 C418.5,160.1 420.8,161.3 423.0,161.9 C425.3,162.6 427.6,162.7 429.8,163.1 C432.1,163.4 434.3,163.8 436.6,164.0 C438.9,164.2 441.1,164.2 443.4,164.2 C445.6,164.3 447.9,164.2 450.2,164.2 C452.4,164.2 454.7,164.2 456.9,164.2 C459.2,164.3 461.5,164.1 463.7,164.4 C466.0,164.7 468.2,165.5 470.5,166.1 C472.8,166.7 475.0,167.1 477.3,167.8 C479.5,168.6 481.8,169.6 484.1,170.6 C486.3,171.7 488.6,172.9 490.8,174.0 C493.1,175.1 495.4,176.3 497.6,177.4 C499.9,178.5 502.1,179.7 504.4,180.8 C506.7,181.9 508.9,182.9 511.2,183.9 C513.4,184.8 515.7,185.6 518.0,186.4 C520.2,187.3 522.5,188.3 524.7,188.9 C527.0,189.6 529.3,189.8 531.5,190.2 C533.8,190.6 536.0,190.9 538.3,191.4 C540.6,191.9 542.8,192.6 545.1,193.2 C547.3,193.9 549.6,193.4 551.9,195.1 C554.1,196.8 556.4,200.9 558.6,203.5 C560.9,206.1 563.2,208.5 565.4,210.8 C567.7,213.1 569.9,215.0 572.2,217.1 C574.5,219.2 576.7,221.4 579.0,223.5 C581.2,225.6 583.5,228.0 585.8,229.8 C588.0,231.7 590.3,233.1 592.5,234.6 C594.8,236.1 597.1,237.5 599.3,238.9 C601.6,240.3 603.8,242.2 606.1,243.2 C608.4,244.1 610.6,244.1 612.9,244.6 C615.1,245.1 617.4,245.6 619.7,246.0 C621.9,246.4 624.2,246.6 626.4,247.0 C628.7,247.3 631.0,247.4 633.2,248.0 C635.5,248.6 637.7,249.9 640.0,250.8 C642.3,251.8 644.5,252.7 646.8,253.7 C649.0,254.6 651.3,255.6 653.6,256.5 C655.8,257.4 658.1,258.3 660.3,259.1 C662.6,259.9 664.9,260.6 667.1,261.4 C669.4,262.1 671.6,262.9 673.9,263.6 C676.2,264.4 678.4,265.2 680.7,265.9 C682.9,266.5 685.2,267.1 687.5,267.6 C689.7,268.1 692.0,268.7 694.2,269.1 C696.5,269.5 698.8,269.7 701.0,270.0 C703.3,270.2 705.5,270.4 707.8,270.8 C710.1,271.1 712.3,271.7 714.6,272.2 C716.8,272.7 719.1,273.2 721.4,273.7 C723.6,274.2 725.9,274.8 728.1,275.3 C730.4,275.8 732.7,276.3 734.9,276.7 C737.2,277.1 739.4,277.4 741.7,277.9 C744.0,278.3 746.2,278.8 748.5,279.3 C750.7,279.8 753.0,280.5 755.3,281.0 C757.5,281.6 759.8,282.2 762.0,282.7 C764.3,283.3 766.6,284.1 768.8,284.4 C771.1,284.8 773.3,284.7 775.6,284.8 C777.9,284.9 780.1,285.1 782.4,285.0 C784.6,285.0 786.9,284.9 789.2,284.7 C791.4,284.4 793.7,284.0 795.9,283.6 C798.2,283.3 800.5,283.0 802.7,282.6 C805.0,282.2 807.2,281.9 809.5,281.5 C811.8,281.2 814.0,280.8 816.3,280.4 C818.5,280.0 820.8,279.6 823.1,279.2 C825.3,278.8 827.6,278.2 829.8,278.0 C832.1,277.8 834.4,278.0 836.6,278.1 C838.9,278.2 841.1,278.5 843.4,278.7 C845.7,278.8 847.9,278.9 850.2,279.0 C852.4,279.1 854.7,279.3 857.0,279.4 C859.2,279.5 861.5,279.6 863.7,279.7 C866.0,279.8 868.3,279.9 870.5,280.0 C872.8,280.2 875.0,280.4 877.3,280.7 C879.6,281.0 881.8,281.3 884.1,281.6 C886.3,281.9 888.6,282.1 890.9,282.4 C893.1,282.6 895.4,282.8 897.6,283.0 C899.9,283.1 902.2,283.4 904.4,283.4 C906.7,283.5 908.9,283.3 911.2,283.3 C913.5,283.2 915.7,283.2 918.0,283.1 C920.2,283.1 922.5,283.1 924.8,283.1 C927.0,283.2 929.3,283.2 931.5,283.5 C933.8,283.8 936.1,284.5 938.3,284.9 C940.6,285.4 942.8,285.8 945.1,286.2 C947.4,286.5 949.6,286.7 951.9,287.0 C954.1,287.3 956.4,287.6 958.7,287.9 C960.9,288.2 963.2,288.4 965.4,288.8 C967.7,289.1 970.0,289.7 972.2,290.1 C974.5,290.6 976.7,291.0 979.0,291.5 C981.3,291.9 983.5,292.4 985.8,292.9 C988.0,293.5 990.3,294.1 992.6,294.6 C994.8,295.2 997.1,295.7 999.3,296.3 C1001.6,297.0 1003.9,297.8 1006.1,298.5 C1008.4,299.3 1010.6,300.1 1012.9,300.9 C1015.2,301.7 1017.4,302.5 1019.7,303.3 C1021.9,304.1 1024.2,304.9 1026.5,305.7 C1028.7,306.4 1031.0,307.3 1033.2,308.0 C1035.5,308.8 1037.8,309.4 1040.0,310.1 C1042.3,310.7 1044.5,311.2 1046.8,311.8 C1049.1,312.3 1051.3,313.0 1053.6,313.5 C1055.8,313.9 1058.1,314.2 1060.4,314.6 C1062.6,314.9 1064.9,315.2 1067.1,315.6 C1069.4,315.9 1071.7,316.2 1073.9,316.5 C1076.2,316.8 1078.4,317.1 1080.7,317.4 C1083.0,317.6 1085.2,318.0 1087.5,318.2 C1089.7,318.4 1092.0,318.5 1094.3,318.5 C1096.5,318.6 1098.8,318.7 1101.0,318.6 C1103.3,318.5 1105.6,318.1 1107.8,318.0 C1110.1,318.0 1112.3,317.9 1114.6,318.4 C1116.9,318.9 1119.1,320.1 1121.4,320.8 C1123.6,321.6 1125.9,322.3 1128.2,323.1 C1130.4,323.8 1132.7,324.5 1134.9,325.1 C1137.2,325.7 1139.5,326.2 1141.7,326.5 C1144.0,326.9 1146.2,327.1 1148.5,327.3 C1150.8,327.5 1153.0,327.7 1155.3,327.7 C1157.5,327.6 1159.8,327.3 1162.1,327.1 C1164.3,326.9 1166.6,327.0 1168.8,326.5 C1171.1,326.0 1173.4,325.1 1175.6,324.4 C1177.9,323.7 1180.1,322.9 1182.4,322.3 C1184.7,321.6 1186.9,320.9 1189.2,320.2 C1191.4,319.5 1193.7,318.9 1196.0,318.2 C1198.2,317.5 1200.5,316.8 1202.7,316.2 C1205.0,315.6 1207.3,315.1 1209.5,314.6 C1211.8,314.1 1214.0,313.5 1216.3,313.0 C1218.6,312.4 1220.8,311.8 1223.1,311.3 C1225.3,310.8 1227.6,310.4 1229.9,309.9 C1232.1,309.5 1234.4,308.9 1236.6,308.6 C1238.9,308.3 1241.2,308.3 1243.4,308.3 C1245.7,308.3 1247.9,308.3 1250.2,308.5 C1252.5,308.6 1254.7,309.2 1257.0,309.4 C1259.2,309.6 1261.5,309.6 1263.8,309.7 C1266.0,309.7 1268.3,309.7 1270.5,309.6 C1272.8,309.6 1275.1,309.3 1277.3,309.3 C1279.6,309.3 1281.8,309.5 1284.1,309.7 C1286.4,310.0 1288.6,310.5 1290.9,310.8 C1293.1,311.0 1295.4,311.0 1297.7,311.2 C1299.9,311.4 1302.2,311.6 1304.4,312.0 C1306.7,312.3 1309.0,312.8 1311.2,313.4 C1313.5,314.0 1315.7,314.7 1318.0,315.5 C1320.3,316.3 1322.5,317.3 1324.8,318.4 C1327.0,319.4 1329.3,320.6 1331.6,321.9 C1333.8,323.1 1336.1,324.7 1338.3,325.8 C1340.6,327.0 1342.9,327.9 1345.1,328.9 C1347.4,329.9 1349.6,331.0 1351.9,331.7 C1354.2,332.5 1356.4,332.9 1358.7,333.5 C1360.9,334.1 1363.2,334.6 1365.5,335.2 C1367.7,335.8 1370.0,336.5 1372.2,337.1 C1374.5,337.7 1376.8,338.4 1379.0,338.9 C1381.3,339.5 1383.5,339.9 1385.8,340.4 C1388.1,340.9 1390.3,341.4 1392.6,341.9 C1394.8,342.3 1397.1,342.8 1399.4,343.3 C1401.6,343.8 1403.9,344.3 1406.1,344.8 C1408.4,345.3 1411.6,346.0 1412.9,346.3 C1414.3,346.6 1414.0,346.6 1414.2,346.6" fill="none" stroke="#ff0000" stroke-opacity="0.7" stroke-width="1.6" stroke-linejoin="round"/>
<line x1="17.3" x2="17.3" y1="268.8" y2="291.0" stroke="#f23645" stroke-width="1"/>
<rect x="14.2" y="273.3" width="6.2" height="1.0" fill="#f23645"/>
<line x1="24.1" x2="24.1" y1="271.3" y2="281.7" stroke="#089981" stroke-width="1"/>
<rect x="21.0" y="273.9" width="6.2" height="1.0" fill="#089981"/>
<line x1="30.9" x2="30.9" y1="270.2" y2="283.7" stroke="#f23645" stroke-width="1"/>
<rect x="27.8" y="275.0" width="6.2" height="6.0" fill="#f23645"/>
<line x1="37.6" x2="37.6" y1="266.7" y2="282.7" stroke="#089981" stroke-width="1"/>
<rect x="34.5" y="269.8" width="6.2" height="11.8" fill="#089981"/>
<line x1="44.4" x2="44.4" y1="266.7" y2="274.4" stroke="#089981" stroke-width="1"/>
<rect x="41.3" y="268.2" width="6.2" height="2.5" fill="#089981"/>
<line x1="51.2" x2="51.2" y1="260.5" y2="269.8" stroke="#089981" stroke-width="1"/>
<rect x="48.1" y="266.3" width="6.2" height="3.1" fill="#089981"/>
<line x1="58.0" x2="58.0" y1="244.7" y2="269.6" stroke="#089981" stroke-width="1"/>
<rect x="54.9" y="245.6" width="6.2" height="21.2" fill="#089981"/>
<line x1="64.8" x2="64.8" y1="239.5" y2="253.0" stroke="#f23645" stroke-width="1"/>
<rect x="61.7" y="245.6" width="6.2" height="7.1" fill="#f23645"/>
<line x1="71.5" x2="71.5" y1="249.5" y2="264.0" stroke="#f23645" stroke-width="1"/>
<rect x="68.4" y="252.6" width="6.2" height="10.0" fill="#f23645"/>
<line x1="78.3" x2="78.3" y1="255.7" y2="268.8" stroke="#089981" stroke-width="1"/>
<rect x="75.2" y="256.8" width="6.2" height="5.8" fill="#089981"/>
<line x1="85.1" x2="85.1" y1="246.4" y2="258.4" stroke="#089981" stroke-width="1"/>
<rect x="82.0" y="252.6" width="6.2" height="4.1" fill="#089981"/>
<line x1="91.9" x2="91.9" y1="246.4" y2="255.7" stroke="#f23645" stroke-width="1"/>
<rect x="88.8" y="252.2" width="6.2" height="2.5" fill="#f23645"/>
<line x1="98.7" x2="98.7" y1="252.6" y2="265.1" stroke="#f23645" stroke-width="1"/>
<rect x="95.6" y="253.2" width="6.2" height="11.8" fill="#f23645"/>
<line x1="105.4" x2="105.4" y1="257.8" y2="267.6" stroke="#089981" stroke-width="1"/>
<rect x="102.3" y="264.1" width="6.2" height="1.0" fill="#089981"/>
<line x1="112.2" x2="112.2" y1="258.8" y2="266.7" stroke="#089981" stroke-width="1"/>
<rect x="109.1" y="262.4" width="6.2" height="2.7" fill="#089981"/>
<line x1="119.0" x2="119.0" y1="258.8" y2="275.9" stroke="#089981" stroke-width="1"/>
<rect x="115.9" y="259.3" width="6.2" height="2.3" fill="#089981"/>
<line x1="125.8" x2="125.8" y1="239.8" y2="259.9" stroke="#089981" stroke-width="1"/>
<rect x="122.7" y="242.9" width="6.2" height="17.0" fill="#089981"/>
<line x1="132.6" x2="132.6" y1="232.9" y2="244.7" stroke="#089981" stroke-width="1"/>
<rect x="129.5" y="237.1" width="6.2" height="6.6" fill="#089981"/>
<line x1="139.3" x2="139.3" y1="226.7" y2="243.3" stroke="#089981" stroke-width="1"/>
<rect x="136.2" y="231.2" width="6.2" height="6.2" fill="#089981"/>
<line x1="146.1" x2="146.1" y1="222.5" y2="239.1" stroke="#f23645" stroke-width="1"/>
<rect x="143.0" y="230.2" width="6.2" height="6.4" fill="#f23645"/>
<line x1="152.9" x2="152.9" y1="222.5" y2="242.2" stroke="#089981" stroke-width="1"/>
<rect x="149.8" y="226.7" width="6.2" height="9.8" fill="#089981"/>
<line x1="159.7" x2="159.7" y1="223.6" y2="240.8" stroke="#f23645" stroke-width="1"/>
<rect x="156.6" y="226.1" width="6.2" height="8.7" fill="#f23645"/>
<line x1="166.5" x2="166.5" y1="213.2" y2="237.7" stroke="#089981" stroke-width="1"/>
<rect x="163.4" y="216.3" width="6.2" height="18.7" fill="#089981"/>
<line x1="173.2" x2="173.2" y1="194.5" y2="219.4" stroke="#089981" stroke-width="1"/>
<rect x="170.1" y="197.2" width="6.2" height="19.7" fill="#089981"/>
<line x1="180.0" x2="180.0" y1="194.5" y2="212.8" stroke="#f23645" stroke-width="1"/>
<rect x="176.9" y="197.2" width="6.2" height="6.2" fill="#f23645"/>
<line x1="186.8" x2="186.8" y1="196.2" y2="220.5" stroke="#089981" stroke-width="1"/>
<rect x="183.7" y="197.2" width="6.2" height="6.2" fill="#089981"/>
<line x1="193.6" x2="193.6" y1="179.0" y2="196.9" stroke="#089981" stroke-width="1"/>
<rect x="190.5" y="191.0" width="6.2" height="5.7" fill="#089981"/>
<line x1="200.4" x2="200.4" y1="179.9" y2="193.6" stroke="#089981" stroke-width="1"/>
<rect x="197.3" y="184.1" width="6.2" height="7.6" fill="#089981"/>
<line x1="207.1" x2="207.1" y1="178.1" y2="203.6" stroke="#f23645" stroke-width="1"/>
<rect x="204.0" y="184.3" width="6.2" height="5.4" fill="#f23645"/>
<line x1="213.9" x2="213.9" y1="189.1" y2="217.4" stroke="#f23645" stroke-width="1"/>
<rect x="210.8" y="189.7" width="6.2" height="14.5" fill="#f23645"/>
<line x1="220.7" x2="220.7" y1="198.4" y2="214.0" stroke="#f23645" stroke-width="1"/>
<rect x="217.6" y="203.0" width="6.2" height="8.9" fill="#f23645"/>
<line x1="227.5" x2="227.5" y1="205.2" y2="221.0" stroke="#f23645" stroke-width="1"/>
<rect x="224.4" y="211.0" width="6.2" height="2.2" fill="#f23645"/>
<line x1="234.3" x2="234.3" y1="202.3" y2="220.6" stroke="#089981" stroke-width="1"/>
<rect x="231.2" y="204.1" width="6.2" height="8.9" fill="#089981"/>
<line x1="241.0" x2="241.0" y1="201.0" y2="214.3" stroke="#f23645" stroke-width="1"/>
<rect x="237.9" y="204.1" width="6.2" height="2.9" fill="#f23645"/>
<line x1="247.8" x2="247.8" y1="189.1" y2="217.9" stroke="#089981" stroke-width="1"/>
<rect x="244.7" y="191.1" width="6.2" height="16.6" fill="#089981"/>
<line x1="254.6" x2="254.6" y1="182.8" y2="196.7" stroke="#089981" stroke-width="1"/>
<rect x="251.5" y="188.7" width="6.2" height="3.1" fill="#089981"/>
<line x1="261.4" x2="261.4" y1="166.9" y2="203.6" stroke="#089981" stroke-width="1"/>
<rect x="258.3" y="184.9" width="6.2" height="4.8" fill="#089981"/>
<line x1="268.2" x2="268.2" y1="138.2" y2="189.1" stroke="#089981" stroke-width="1"/>
<rect x="265.1" y="170.4" width="6.2" height="15.6" fill="#089981"/>
<line x1="274.9" x2="274.9" y1="132.0" y2="171.4" stroke="#089981" stroke-width="1"/>
<rect x="271.8" y="132.4" width="6.2" height="38.0" fill="#089981"/>
<line x1="281.7" x2="281.7" y1="106.7" y2="133.7" stroke="#089981" stroke-width="1"/>
<rect x="278.6" y="119.6" width="6.2" height="13.5" fill="#089981"/>
<line x1="288.5" x2="288.5" y1="118.5" y2="150.7" stroke="#f23645" stroke-width="1"/>
<rect x="285.4" y="119.6" width="6.2" height="8.9" fill="#f23645"/>
<line x1="295.3" x2="295.3" y1="86.0" y2="129.5" stroke="#089981" stroke-width="1"/>
<rect x="292.2" y="103.0" width="6.2" height="24.9" fill="#089981"/>
<line x1="302.1" x2="302.1" y1="96.7" y2="207.7" stroke="#f23645" stroke-width="1"/>
<rect x="299.0" y="103.0" width="6.2" height="45.6" fill="#f23645"/>
<line x1="308.8" x2="308.8" y1="110.9" y2="163.6" stroke="#089981" stroke-width="1"/>
<rect x="305.7" y="124.1" width="6.2" height="24.5" fill="#089981"/>
<line x1="315.6" x2="315.6" y1="111.7" y2="132.0" stroke="#089981" stroke-width="1"/>
<rect x="312.5" y="118.9" width="6.2" height="4.4" fill="#089981"/>
<line x1="322.4" x2="322.4" y1="111.7" y2="143.4" stroke="#f23645" stroke-width="1"/>
<rect x="319.3" y="118.9" width="6.2" height="11.4" fill="#f23645"/>
<line x1="329.2" x2="329.2" y1="116.9" y2="131.6" stroke="#089981" stroke-width="1"/>
<rect x="326.1" y="118.9" width="6.2" height="12.0" fill="#089981"/>
<line x1="336.0" x2="336.0" y1="117.5" y2="143.4" stroke="#f23645" stroke-width="1"/>
<rect x="332.9" y="119.6" width="6.2" height="15.1" fill="#f23645"/>
<line x1="342.7" x2="342.7" y1="93.6" y2="150.7" stroke="#089981" stroke-width="1"/>
<rect x="339.6" y="100.5" width="6.2" height="34.2" fill="#089981"/>
<line x1="349.5" x2="349.5" y1="99.2" y2="139.9" stroke="#f23645" stroke-width="1"/>
<rect x="346.4" y="99.9" width="6.2" height="16.6" fill="#f23645"/>
<line x1="356.3" x2="356.3" y1="101.3" y2="122.7" stroke="#089981" stroke-width="1"/>
<rect x="353.2" y="106.5" width="6.2" height="10.4" fill="#089981"/>
<line x1="363.1" x2="363.1" y1="79.7" y2="135.8" stroke="#f23645" stroke-width="1"/>
<rect x="360.0" y="106.5" width="6.2" height="8.3" fill="#f23645"/>
<line x1="369.9" x2="369.9" y1="106.5" y2="160.0" stroke="#f23645" stroke-width="1"/>
<rect x="366.8" y="113.3" width="6.2" height="15.1" fill="#f23645"/>
<line x1="376.6" x2="376.6" y1="124.8" y2="172.5" stroke="#f23645" stroke-width="1"/>
<rect x="373.5" y="128.3" width="6.2" height="39.6" fill="#f23645"/>
<line x1="383.4" x2="383.4" y1="151.4" y2="185.0" stroke="#089981" stroke-width="1"/>
<rect x="380.3" y="154.9" width="6.2" height="12.9" fill="#089981"/>
<line x1="390.2" x2="390.2" y1="145.6" y2="176.7" stroke="#f23645" stroke-width="1"/>
<rect x="387.1" y="155.9" width="6.2" height="11.8" fill="#f23645"/>
<line x1="397.0" x2="397.0" y1="163.2" y2="214.0" stroke="#f23645" stroke-width="1"/>
<rect x="393.9" y="167.8" width="6.2" height="43.8" fill="#f23645"/>
<line x1="403.8" x2="403.8" y1="176.7" y2="219.6" stroke="#089981" stroke-width="1"/>
<rect x="400.7" y="179.8" width="6.2" height="31.5" fill="#089981"/>
<line x1="410.5" x2="410.5" y1="174.6" y2="192.7" stroke="#f23645" stroke-width="1"/>
<rect x="407.4" y="179.2" width="6.2" height="4.8" fill="#f23645"/>
<line x1="417.3" x2="417.3" y1="177.3" y2="203.0" stroke="#f23645" stroke-width="1"/>
<rect x="414.2" y="183.5" width="6.2" height="10.4" fill="#f23645"/>
<line x1="424.1" x2="424.1" y1="179.2" y2="196.0" stroke="#089981" stroke-width="1"/>
<rect x="421.0" y="189.8" width="6.2" height="5.2" fill="#089981"/>
<line x1="430.9" x2="430.9" y1="174.2" y2="190.6" stroke="#089981" stroke-width="1"/>
<rect x="427.8" y="174.6" width="6.2" height="15.6" fill="#089981"/>
<line x1="437.7" x2="437.7" y1="162.2" y2="179.8" stroke="#089981" stroke-width="1"/>
<rect x="434.6" y="169.4" width="6.2" height="5.8" fill="#089981"/>
<line x1="444.4" x2="444.4" y1="152.8" y2="171.5" stroke="#089981" stroke-width="1"/>
<rect x="441.3" y="164.6" width="6.2" height="5.4" fill="#089981"/>
<line x1="451.2" x2="451.2" y1="160.7" y2="185.0" stroke="#f23645" stroke-width="1"/>
<rect x="448.1" y="164.6" width="6.2" height="10.4" fill="#f23645"/>
<line x1="458.0" x2="458.0" y1="167.3" y2="181.5" stroke="#089981" stroke-width="1"/>
<rect x="454.9" y="173.2" width="6.2" height="2.1" fill="#089981"/>
<line x1="464.8" x2="464.8" y1="162.2" y2="181.5" stroke="#089981" stroke-width="1"/>
<rect x="461.7" y="164.2" width="6.2" height="9.8" fill="#089981"/>
<line x1="471.6" x2="471.6" y1="161.5" y2="178.1" stroke="#f23645" stroke-width="1"/>
<rect x="468.5" y="165.3" width="6.2" height="12.0" fill="#f23645"/>
<line x1="478.3" x2="478.3" y1="171.1" y2="178.1" stroke="#089981" stroke-width="1"/>
<rect x="475.2" y="173.2" width="6.2" height="3.9" fill="#089981"/>
<line x1="485.1" x2="485.1" y1="171.5" y2="199.5" stroke="#f23645" stroke-width="1"/>
<rect x="482.0" y="172.9" width="6.2" height="17.2" fill="#f23645"/>
<line x1="491.9" x2="491.9" y1="189.5" y2="217.6" stroke="#f23645" stroke-width="1"/>
<rect x="488.8" y="190.2" width="6.2" height="23.9" fill="#f23645"/>
<line x1="498.7" x2="498.7" y1="205.1" y2="222.7" stroke="#f23645" stroke-width="1"/>
<rect x="495.6" y="213.0" width="6.2" height="7.3" fill="#f23645"/>
<line x1="505.5" x2="505.5" y1="204.3" y2="226.5" stroke="#089981" stroke-width="1"/>
<rect x="502.4" y="213.0" width="6.2" height="7.9" fill="#089981"/>
<line x1="512.2" x2="512.2" y1="210.9" y2="225.4" stroke="#f23645" stroke-width="1"/>
<rect x="509.1" y="213.0" width="6.2" height="4.8" fill="#f23645"/>
<line x1="519.0" x2="519.0" y1="208.4" y2="218.8" stroke="#089981" stroke-width="1"/>
<rect x="515.9" y="213.0" width="6.2" height="4.8" fill="#089981"/>
<line x1="525.8" x2="525.8" y1="204.1" y2="213.0" stroke="#089981" stroke-width="1"/>
<rect x="522.7" y="208.4" width="6.2" height="4.1" fill="#089981"/>
<line x1="532.6" x2="532.6" y1="192.2" y2="214.0" stroke="#089981" stroke-width="1"/>
<rect x="529.5" y="194.3" width="6.2" height="14.5" fill="#089981"/>
<line x1="539.4" x2="539.4" y1="188.7" y2="209.3" stroke="#f23645" stroke-width="1"/>
<rect x="536.3" y="194.7" width="6.2" height="14.1" fill="#f23645"/>
<line x1="546.1" x2="546.1" y1="204.7" y2="226.5" stroke="#f23645" stroke-width="1"/>
<rect x="543.0" y="207.4" width="6.2" height="4.6" fill="#f23645"/>
<line x1="552.9" x2="552.9" y1="205.0" y2="215.7" stroke="#089981" stroke-width="1"/>
<rect x="549.8" y="210.7" width="6.2" height="1.0" fill="#089981"/>
<line x1="559.7" x2="559.7" y1="207.4" y2="287.3" stroke="#f23645" stroke-width="1"/>
<rect x="556.6" y="211.2" width="6.2" height="48.5" fill="#f23645"/>
<line x1="566.5" x2="566.5" y1="250.6" y2="317.8" stroke="#f23645" stroke-width="1"/>
<rect x="563.4" y="259.3" width="6.2" height="33.2" fill="#f23645"/>
<line x1="573.3" x2="573.3" y1="274.9" y2="299.8" stroke="#089981" stroke-width="1"/>
<rect x="570.2" y="279.0" width="6.2" height="14.5" fill="#089981"/>
<line x1="580.0" x2="580.0" y1="263.0" y2="296.2" stroke="#f23645" stroke-width="1"/>
<rect x="576.9" y="280.1" width="6.2" height="3.7" fill="#f23645"/>
<line x1="586.8" x2="586.8" y1="272.8" y2="296.2" stroke="#f23645" stroke-width="1"/>
<rect x="583.7" y="284.2" width="6.2" height="1.7" fill="#f23645"/>
<line x1="593.6" x2="593.6" y1="281.1" y2="302.3" stroke="#f23645" stroke-width="1"/>
<rect x="590.5" y="284.2" width="6.2" height="9.3" fill="#f23645"/>
<line x1="600.4" x2="600.4" y1="283.2" y2="297.7" stroke="#089981" stroke-width="1"/>
<rect x="597.3" y="285.2" width="6.2" height="8.3" fill="#089981"/>
<line x1="607.2" x2="607.2" y1="274.9" y2="305.0" stroke="#089981" stroke-width="1"/>
<rect x="604.1" y="279.0" width="6.2" height="6.6" fill="#089981"/>
<line x1="613.9" x2="613.9" y1="255.8" y2="280.5" stroke="#089981" stroke-width="1"/>
<rect x="610.8" y="255.8" width="6.2" height="23.9" fill="#089981"/>
<line x1="620.7" x2="620.7" y1="253.5" y2="267.6" stroke="#f23645" stroke-width="1"/>
<rect x="617.6" y="256.8" width="6.2" height="4.6" fill="#f23645"/>
<line x1="627.5" x2="627.5" y1="247.3" y2="263.5" stroke="#089981" stroke-width="1"/>
<rect x="624.4" y="250.6" width="6.2" height="11.2" fill="#089981"/>
<line x1="634.3" x2="634.3" y1="247.9" y2="262.8" stroke="#f23645" stroke-width="1"/>
<rect x="631.2" y="250.6" width="6.2" height="11.2" fill="#f23645"/>
<line x1="641.1" x2="641.1" y1="254.1" y2="279.0" stroke="#f23645" stroke-width="1"/>
<rect x="638.0" y="261.0" width="6.2" height="14.3" fill="#f23645"/>
<line x1="647.8" x2="647.8" y1="272.2" y2="283.2" stroke="#f23645" stroke-width="1"/>
<rect x="644.7" y="274.9" width="6.2" height="3.1" fill="#f23645"/>
<line x1="654.6" x2="654.6" y1="272.8" y2="283.8" stroke="#f23645" stroke-width="1"/>
<rect x="651.5" y="278.4" width="6.2" height="4.8" fill="#f23645"/>
<line x1="661.4" x2="661.4" y1="278.0" y2="292.9" stroke="#089981" stroke-width="1"/>
<rect x="658.3" y="279.0" width="6.2" height="4.1" fill="#089981"/>
<line x1="668.2" x2="668.2" y1="272.8" y2="285.2" stroke="#f23645" stroke-width="1"/>
<rect x="665.1" y="279.0" width="6.2" height="5.6" fill="#f23645"/>
<line x1="675.0" x2="675.0" y1="282.1" y2="290.9" stroke="#f23645" stroke-width="1"/>
<rect x="671.9" y="284.2" width="6.2" height="2.5" fill="#f23645"/>
<line x1="681.7" x2="681.7" y1="283.2" y2="303.9" stroke="#f23645" stroke-width="1"/>
<rect x="678.6" y="285.9" width="6.2" height="9.3" fill="#f23645"/>
<line x1="688.5" x2="688.5" y1="285.2" y2="308.7" stroke="#089981" stroke-width="1"/>
<rect x="685.4" y="290.4" width="6.2" height="4.8" fill="#089981"/>
<line x1="695.3" x2="695.3" y1="282.6" y2="296.2" stroke="#089981" stroke-width="1"/>
<rect x="692.2" y="285.2" width="6.2" height="4.8" fill="#089981"/>
<line x1="702.1" x2="702.1" y1="275.9" y2="290.9" stroke="#089981" stroke-width="1"/>
<rect x="699.0" y="278.6" width="6.2" height="7.1" fill="#089981"/>
<line x1="708.9" x2="708.9" y1="274.9" y2="282.6" stroke="#f23645" stroke-width="1"/>
<rect x="705.8" y="279.6" width="6.2" height="2.5" fill="#f23645"/>
<line x1="715.6" x2="715.6" y1="279.6" y2="288.8" stroke="#f23645" stroke-width="1"/>
<rect x="712.5" y="281.7" width="6.2" height="3.9" fill="#f23645"/>
<line x1="722.4" x2="722.4" y1="274.9" y2="289.4" stroke="#f23645" stroke-width="1"/>
<rect x="719.3" y="284.6" width="6.2" height="3.7" fill="#f23645"/>
<line x1="729.2" x2="729.2" y1="286.3" y2="295.6" stroke="#f23645" stroke-width="1"/>
<rect x="726.1" y="287.9" width="6.2" height="7.3" fill="#f23645"/>
<line x1="736.0" x2="736.0" y1="279.0" y2="297.3" stroke="#089981" stroke-width="1"/>
<rect x="732.9" y="288.8" width="6.2" height="6.4" fill="#089981"/>
<line x1="742.8" x2="742.8" y1="280.9" y2="291.0" stroke="#089981" stroke-width="1"/>
<rect x="739.7" y="281.7" width="6.2" height="7.4" fill="#089981"/>
<line x1="749.5" x2="749.5" y1="278.7" y2="292.5" stroke="#f23645" stroke-width="1"/>
<rect x="746.4" y="282.7" width="6.2" height="9.3" fill="#f23645"/>
<line x1="756.3" x2="756.3" y1="289.5" y2="297.2" stroke="#f23645" stroke-width="1"/>
<rect x="753.2" y="291.0" width="6.2" height="5.9" fill="#f23645"/>
<line x1="763.1" x2="763.1" y1="294.3" y2="299.0" stroke="#f23645" stroke-width="1"/>
<rect x="760.0" y="296.0" width="6.2" height="1.0" fill="#f23645"/>
<line x1="769.9" x2="769.9" y1="288.0" y2="303.9" stroke="#f23645" stroke-width="1"/>
<rect x="766.8" y="296.0" width="6.2" height="1.0" fill="#f23645"/>
<line x1="776.7" x2="776.7" y1="296.5" y2="303.4" stroke="#f23645" stroke-width="1"/>
<rect x="773.6" y="297.2" width="6.2" height="5.9" fill="#f23645"/>
<line x1="783.4" x2="783.4" y1="286.1" y2="303.9" stroke="#089981" stroke-width="1"/>
<rect x="780.3" y="287.9" width="6.2" height="15.3" fill="#089981"/>
<line x1="790.2" x2="790.2" y1="282.7" y2="290.1" stroke="#089981" stroke-width="1"/>
<rect x="787.1" y="284.6" width="6.2" height="3.7" fill="#089981"/>
<line x1="797.0" x2="797.0" y1="266.1" y2="286.6" stroke="#089981" stroke-width="1"/>
<rect x="793.9" y="270.6" width="6.2" height="14.4" fill="#089981"/>
<line x1="803.8" x2="803.8" y1="267.9" y2="274.7" stroke="#089981" stroke-width="1"/>
<rect x="800.7" y="270.1" width="6.2" height="1.0" fill="#089981"/>
<line x1="810.6" x2="810.6" y1="269.8" y2="281.2" stroke="#f23645" stroke-width="1"/>
<rect x="807.5" y="271.0" width="6.2" height="9.9" fill="#f23645"/>
<line x1="817.3" x2="817.3" y1="259.0" y2="283.1" stroke="#089981" stroke-width="1"/>
<rect x="814.2" y="259.4" width="6.2" height="21.5" fill="#089981"/>
<line x1="824.1" x2="824.1" y1="255.0" y2="265.8" stroke="#f23645" stroke-width="1"/>
<rect x="821.0" y="259.4" width="6.2" height="4.4" fill="#f23645"/>
<line x1="830.9" x2="830.9" y1="262.4" y2="274.7" stroke="#f23645" stroke-width="1"/>
<rect x="827.8" y="263.4" width="6.2" height="7.6" fill="#f23645"/>
<line x1="837.7" x2="837.7" y1="268.3" y2="292.8" stroke="#f23645" stroke-width="1"/>
<rect x="834.6" y="270.1" width="6.2" height="11.3" fill="#f23645"/>
<line x1="844.5" x2="844.5" y1="278.7" y2="287.6" stroke="#f23645" stroke-width="1"/>
<rect x="841.4" y="281.2" width="6.2" height="3.4" fill="#f23645"/>
<line x1="851.2" x2="851.2" y1="281.2" y2="286.1" stroke="#089981" stroke-width="1"/>
<rect x="848.1" y="282.7" width="6.2" height="1.9" fill="#089981"/>
<line x1="858.0" x2="858.0" y1="282.4" y2="285.8" stroke="#f23645" stroke-width="1"/>
<rect x="854.9" y="282.7" width="6.2" height="3.0" fill="#f23645"/>
<line x1="864.8" x2="864.8" y1="275.0" y2="286.1" stroke="#089981" stroke-width="1"/>
<rect x="861.7" y="279.0" width="6.2" height="6.7" fill="#089981"/>
<line x1="871.6" x2="871.6" y1="278.7" y2="288.6" stroke="#f23645" stroke-width="1"/>
<rect x="868.5" y="279.0" width="6.2" height="7.9" fill="#f23645"/>
<line x1="878.4" x2="878.4" y1="281.2" y2="290.6" stroke="#f23645" stroke-width="1"/>
<rect x="875.3" y="286.4" width="6.2" height="3.4" fill="#f23645"/>
<line x1="885.1" x2="885.1" y1="287.1" y2="293.5" stroke="#f23645" stroke-width="1"/>
<rect x="882.0" y="289.8" width="6.2" height="3.0" fill="#f23645"/>
<line x1="891.9" x2="891.9" y1="285.4" y2="293.1" stroke="#089981" stroke-width="1"/>
<rect x="888.8" y="291.8" width="6.2" height="1.0" fill="#089981"/>
<line x1="898.7" x2="898.7" y1="288.0" y2="292.8" stroke="#089981" stroke-width="1"/>
<rect x="895.6" y="289.5" width="6.2" height="2.5" fill="#089981"/>
<line x1="905.5" x2="905.5" y1="288.3" y2="294.6" stroke="#f23645" stroke-width="1"/>
<rect x="902.4" y="289.8" width="6.2" height="1.9" fill="#f23645"/>
<line x1="912.3" x2="912.3" y1="282.7" y2="292.8" stroke="#089981" stroke-width="1"/>
<rect x="909.2" y="285.1" width="6.2" height="7.7" fill="#089981"/>
<line x1="919.0" x2="919.0" y1="281.2" y2="288.3" stroke="#089981" stroke-width="1"/>
<rect x="915.9" y="282.7" width="6.2" height="2.7" fill="#089981"/>
<line x1="925.8" x2="925.8" y1="281.2" y2="286.1" stroke="#f23645" stroke-width="1"/>
<rect x="922.7" y="282.6" width="6.2" height="1.0" fill="#f23645"/>
<line x1="932.6" x2="932.6" y1="282.6" y2="289.7" stroke="#f23645" stroke-width="1"/>
<rect x="929.5" y="282.9" width="6.2" height="2.7" fill="#f23645"/>
<line x1="939.4" x2="939.4" y1="266.0" y2="302.6" stroke="#f23645" stroke-width="1"/>
<rect x="936.3" y="285.2" width="6.2" height="5.9" fill="#f23645"/>
<line x1="946.2" x2="946.2" y1="290.2" y2="300.7" stroke="#f23645" stroke-width="1"/>
<rect x="943.1" y="290.6" width="6.2" height="7.1" fill="#f23645"/>
<line x1="952.9" x2="952.9" y1="291.1" y2="300.7" stroke="#089981" stroke-width="1"/>
<rect x="949.8" y="292.9" width="6.2" height="4.8" fill="#089981"/>
<line x1="959.7" x2="959.7" y1="289.7" y2="298.0" stroke="#f23645" stroke-width="1"/>
<rect x="956.6" y="292.9" width="6.2" height="2.1" fill="#f23645"/>
<line x1="966.5" x2="966.5" y1="294.5" y2="311.0" stroke="#f23645" stroke-width="1"/>
<rect x="963.4" y="295.0" width="6.2" height="11.6" fill="#f23645"/>
<line x1="973.3" x2="973.3" y1="292.9" y2="311.0" stroke="#089981" stroke-width="1"/>
<rect x="970.2" y="296.2" width="6.2" height="10.3" fill="#089981"/>
<line x1="980.1" x2="980.1" y1="295.9" y2="307.8" stroke="#f23645" stroke-width="1"/>
<rect x="977.0" y="296.2" width="6.2" height="11.2" fill="#f23645"/>
<line x1="986.8" x2="986.8" y1="304.2" y2="317.8" stroke="#f23645" stroke-width="1"/>
<rect x="983.7" y="307.1" width="6.2" height="5.7" fill="#f23645"/>
<line x1="993.6" x2="993.6" y1="309.8" y2="314.6" stroke="#089981" stroke-width="1"/>
<rect x="990.5" y="311.0" width="6.2" height="2.1" fill="#089981"/>
<line x1="1000.4" x2="1000.4" y1="307.8" y2="313.7" stroke="#089981" stroke-width="1"/>
<rect x="997.3" y="309.2" width="6.2" height="2.7" fill="#089981"/>
<line x1="1007.2" x2="1007.2" y1="306.9" y2="324.0" stroke="#f23645" stroke-width="1"/>
<rect x="1004.1" y="309.2" width="6.2" height="9.4" fill="#f23645"/>
<line x1="1014.0" x2="1014.0" y1="317.2" y2="343.0" stroke="#f23645" stroke-width="1"/>
<rect x="1010.9" y="318.1" width="6.2" height="10.7" fill="#f23645"/>
<line x1="1020.7" x2="1020.7" y1="319.9" y2="330.6" stroke="#089981" stroke-width="1"/>
<rect x="1017.6" y="327.9" width="6.2" height="1.8" fill="#089981"/>
<line x1="1027.5" x2="1027.5" y1="320.8" y2="331.8" stroke="#089981" stroke-width="1"/>
<rect x="1024.4" y="327.4" width="6.2" height="1.0" fill="#089981"/>
<line x1="1034.3" x2="1034.3" y1="324.0" y2="334.1" stroke="#f23645" stroke-width="1"/>
<rect x="1031.2" y="327.5" width="6.2" height="5.7" fill="#f23645"/>
<line x1="1041.1" x2="1041.1" y1="324.0" y2="344.8" stroke="#089981" stroke-width="1"/>
<rect x="1038.0" y="328.4" width="6.2" height="4.8" fill="#089981"/>
<line x1="1047.9" x2="1047.9" y1="322.6" y2="331.8" stroke="#f23645" stroke-width="1"/>
<rect x="1044.8" y="328.4" width="6.2" height="3.0" fill="#f23645"/>
<line x1="1054.6" x2="1054.6" y1="329.7" y2="340.3" stroke="#f23645" stroke-width="1"/>
<rect x="1051.5" y="331.3" width="6.2" height="1.0" fill="#f23645"/>
<line x1="1061.4" x2="1061.4" y1="320.2" y2="332.7" stroke="#089981" stroke-width="1"/>
<rect x="1058.3" y="324.3" width="6.2" height="8.0" fill="#089981"/>
<line x1="1068.2" x2="1068.2" y1="322.0" y2="328.8" stroke="#f23645" stroke-width="1"/>
<rect x="1065.1" y="324.3" width="6.2" height="3.6" fill="#f23645"/>
<line x1="1075.0" x2="1075.0" y1="322.6" y2="332.7" stroke="#089981" stroke-width="1"/>
<rect x="1071.9" y="324.3" width="6.2" height="3.6" fill="#089981"/>
<line x1="1081.8" x2="1081.8" y1="320.8" y2="328.2" stroke="#f23645" stroke-width="1"/>
<rect x="1078.7" y="324.3" width="6.2" height="3.6" fill="#f23645"/>
<line x1="1088.5" x2="1088.5" y1="316.3" y2="328.8" stroke="#f23645" stroke-width="1"/>
<rect x="1085.4" y="327.4" width="6.2" height="1.0" fill="#f23645"/>
<line x1="1095.3" x2="1095.3" y1="322.2" y2="331.8" stroke="#089981" stroke-width="1"/>
<rect x="1092.2" y="324.0" width="6.2" height="4.8" fill="#089981"/>
<line x1="1102.1" x2="1102.1" y1="314.9" y2="324.3" stroke="#089981" stroke-width="1"/>
<rect x="1099.0" y="317.2" width="6.2" height="6.8" fill="#089981"/>
<line x1="1108.9" x2="1108.9" y1="307.0" y2="318.6" stroke="#089981" stroke-width="1"/>
<rect x="1105.8" y="308.8" width="6.2" height="9.2" fill="#089981"/>
<line x1="1115.7" x2="1115.7" y1="306.1" y2="317.7" stroke="#f23645" stroke-width="1"/>
<rect x="1112.6" y="308.8" width="6.2" height="6.2" fill="#f23645"/>
<line x1="1122.4" x2="1122.4" y1="311.4" y2="342.2" stroke="#f23645" stroke-width="1"/>
<rect x="1119.3" y="315.0" width="6.2" height="27.0" fill="#f23645"/>
<line x1="1129.2" x2="1129.2" y1="340.8" y2="367.1" stroke="#f23645" stroke-width="1"/>
<rect x="1126.1" y="341.7" width="6.2" height="6.8" fill="#f23645"/>
<line x1="1136.0" x2="1136.0" y1="334.6" y2="349.7" stroke="#089981" stroke-width="1"/>
<rect x="1132.9" y="336.3" width="6.2" height="12.4" fill="#089981"/>
<line x1="1142.8" x2="1142.8" y1="335.4" y2="351.8" stroke="#f23645" stroke-width="1"/>
<rect x="1139.7" y="336.3" width="6.2" height="14.6" fill="#f23645"/>
<line x1="1149.6" x2="1149.6" y1="331.4" y2="359.4" stroke="#089981" stroke-width="1"/>
<rect x="1146.5" y="337.2" width="6.2" height="13.7" fill="#089981"/>
<line x1="1156.3" x2="1156.3" y1="329.2" y2="340.4" stroke="#089981" stroke-width="1"/>
<rect x="1153.2" y="333.1" width="6.2" height="4.4" fill="#089981"/>
<line x1="1163.1" x2="1163.1" y1="325.3" y2="335.1" stroke="#089981" stroke-width="1"/>
<rect x="1160.0" y="326.6" width="6.2" height="6.8" fill="#089981"/>
<line x1="1169.9" x2="1169.9" y1="316.4" y2="327.8" stroke="#089981" stroke-width="1"/>
<rect x="1166.8" y="322.1" width="6.2" height="4.8" fill="#089981"/>
<line x1="1176.7" x2="1176.7" y1="307.9" y2="322.1" stroke="#089981" stroke-width="1"/>
<rect x="1173.6" y="310.0" width="6.2" height="11.6" fill="#089981"/>
<line x1="1183.5" x2="1183.5" y1="291.4" y2="312.7" stroke="#089981" stroke-width="1"/>
<rect x="1180.4" y="295.1" width="6.2" height="14.9" fill="#089981"/>
<line x1="1190.2" x2="1190.2" y1="292.2" y2="303.8" stroke="#f23645" stroke-width="1"/>
<rect x="1187.1" y="295.1" width="6.2" height="6.2" fill="#f23645"/>
<line x1="1197.0" x2="1197.0" y1="291.9" y2="301.7" stroke="#089981" stroke-width="1"/>
<rect x="1193.9" y="292.2" width="6.2" height="9.1" fill="#089981"/>
<line x1="1203.8" x2="1203.8" y1="287.1" y2="303.1" stroke="#f23645" stroke-width="1"/>
<rect x="1200.7" y="292.2" width="6.2" height="4.4" fill="#f23645"/>
<line x1="1210.6" x2="1210.6" y1="286.0" y2="297.6" stroke="#f23645" stroke-width="1"/>
<rect x="1207.5" y="296.2" width="6.2" height="1.0" fill="#f23645"/>
<line x1="1217.4" x2="1217.4" y1="289.6" y2="307.9" stroke="#f23645" stroke-width="1"/>
<rect x="1214.3" y="298.1" width="6.2" height="8.9" fill="#f23645"/>
<line x1="1224.1" x2="1224.1" y1="294.2" y2="310.0" stroke="#089981" stroke-width="1"/>
<rect x="1221.0" y="296.7" width="6.2" height="10.3" fill="#089981"/>
<line x1="1230.9" x2="1230.9" y1="294.9" y2="302.2" stroke="#f23645" stroke-width="1"/>
<rect x="1227.8" y="296.7" width="6.2" height="1.0" fill="#f23645"/>
<line x1="1237.7" x2="1237.7" y1="289.2" y2="309.1" stroke="#089981" stroke-width="1"/>
<rect x="1234.6" y="291.4" width="6.2" height="6.2" fill="#089981"/>
<line x1="1244.5" x2="1244.5" y1="289.6" y2="304.3" stroke="#f23645" stroke-width="1"/>
<rect x="1241.4" y="291.4" width="6.2" height="12.6" fill="#f23645"/>
<line x1="1251.3" x2="1251.3" y1="301.7" y2="316.8" stroke="#f23645" stroke-width="1"/>
<rect x="1248.2" y="304.3" width="6.2" height="8.9" fill="#f23645"/>
<line x1="1258.0" x2="1258.0" y1="306.1" y2="316.8" stroke="#f23645" stroke-width="1"/>
<rect x="1254.9" y="312.9" width="6.2" height="3.0" fill="#f23645"/>
<line x1="1264.8" x2="1264.8" y1="315.0" y2="328.9" stroke="#f23645" stroke-width="1"/>
<rect x="1261.7" y="315.9" width="6.2" height="6.8" fill="#f23645"/>
<line x1="1271.6" x2="1271.6" y1="307.9" y2="323.0" stroke="#089981" stroke-width="1"/>
<rect x="1268.5" y="308.8" width="6.2" height="13.9" fill="#089981"/>
<line x1="1278.4" x2="1278.4" y1="301.7" y2="309.7" stroke="#089981" stroke-width="1"/>
<rect x="1275.3" y="308.4" width="6.2" height="1.0" fill="#089981"/>
<line x1="1285.2" x2="1285.2" y1="307.0" y2="315.9" stroke="#f23645" stroke-width="1"/>
<rect x="1282.1" y="308.4" width="6.2" height="6.6" fill="#f23645"/>
<line x1="1291.9" x2="1291.9" y1="303.2" y2="317.8" stroke="#f23645" stroke-width="1"/>
<rect x="1288.8" y="314.2" width="6.2" height="3.5" fill="#f23645"/>
<line x1="1298.7" x2="1298.7" y1="314.9" y2="322.5" stroke="#f23645" stroke-width="1"/>
<rect x="1295.6" y="316.3" width="6.2" height="2.5" fill="#f23645"/>
<line x1="1305.5" x2="1305.5" y1="314.9" y2="326.7" stroke="#f23645" stroke-width="1"/>
<rect x="1302.4" y="318.0" width="6.2" height="8.3" fill="#f23645"/>
<line x1="1312.3" x2="1312.3" y1="321.5" y2="337.7" stroke="#089981" stroke-width="1"/>
<rect x="1309.2" y="322.9" width="6.2" height="3.3" fill="#089981"/>
<line x1="1319.1" x2="1319.1" y1="322.1" y2="343.9" stroke="#f23645" stroke-width="1"/>
<rect x="1316.0" y="322.9" width="6.2" height="17.2" fill="#f23645"/>
<line x1="1325.8" x2="1325.8" y1="334.4" y2="349.5" stroke="#089981" stroke-width="1"/>
<rect x="1322.7" y="340.1" width="6.2" height="1.0" fill="#089981"/>
<line x1="1332.6" x2="1332.6" y1="338.1" y2="358.4" stroke="#f23645" stroke-width="1"/>
<rect x="1329.5" y="339.8" width="6.2" height="12.4" fill="#f23645"/>
<line x1="1339.4" x2="1339.4" y1="350.5" y2="391.6" stroke="#f23645" stroke-width="1"/>
<rect x="1336.3" y="351.2" width="6.2" height="20.1" fill="#f23645"/>
<line x1="1346.2" x2="1346.2" y1="356.3" y2="371.7" stroke="#089981" stroke-width="1"/>
<rect x="1343.1" y="358.4" width="6.2" height="12.9" fill="#089981"/>
<line x1="1353.0" x2="1353.0" y1="353.7" y2="368.2" stroke="#f23645" stroke-width="1"/>
<rect x="1349.9" y="358.8" width="6.2" height="4.8" fill="#f23645"/>
<line x1="1359.7" x2="1359.7" y1="345.8" y2="366.7" stroke="#089981" stroke-width="1"/>
<rect x="1356.6" y="347.0" width="6.2" height="17.0" fill="#089981"/>
<line x1="1366.5" x2="1366.5" y1="345.4" y2="356.3" stroke="#f23645" stroke-width="1"/>
<rect x="1363.4" y="347.0" width="6.2" height="2.5" fill="#f23645"/>
<line x1="1373.3" x2="1373.3" y1="346.4" y2="352.0" stroke="#f23645" stroke-width="1"/>
<rect x="1370.2" y="349.1" width="6.2" height="2.5" fill="#f23645"/>
<line x1="1380.1" x2="1380.1" y1="343.9" y2="362.0" stroke="#f23645" stroke-width="1"/>
<rect x="1377.0" y="351.2" width="6.2" height="10.4" fill="#f23645"/>
<line x1="1386.9" x2="1386.9" y1="352.2" y2="362.0" stroke="#089981" stroke-width="1"/>
<rect x="1383.8" y="354.3" width="6.2" height="7.3" fill="#089981"/>
<line x1="1393.6" x2="1393.6" y1="351.0" y2="358.8" stroke="#089981" stroke-width="1"/>
<rect x="1390.5" y="354.2" width="6.2" height="1.0" fill="#089981"/>
<line x1="1400.4" x2="1400.4" y1="353.7" y2="357.8" stroke="#f23645" stroke-width="1"/>
<rect x="1397.3" y="355.2" width="6.2" height="1.0" fill="#f23645"/>
<line x1="1407.2" x2="1407.2" y1="355.9" y2="364.7" stroke="#f23645" stroke-width="1"/>
<rect x="1404.1" y="360.0" width="6.2" height="2.9" fill="#f23645"/>
<line x1="1414.0" x2="1414.0" y1="351.3" y2="365.8" stroke="#089981" stroke-width="1"/>
<rect x="1410.9" y="358.3" width="6.2" height="4.7" fill="#089981"/>
<linearGradient id="obg" x1="0" y1="0" x2="0" y2="1"><stop offset="0" stop-color="#089981" stop-opacity="0.12"/><stop offset="1" stop-color="#089981" stop-opacity="0.01"/></linearGradient>
<clipPath id="ob"><rect x="16" y="424" width="1469" height="38.9"/></clipPath>
<path d="M17.3,535.3 L24.1,535.3 L30.9,539.3 L37.6,528.1 L44.4,527.0 L51.2,524.6 L58.0,503.2 L64.8,510.8 L71.5,518.2 L78.3,512.7 L85.1,508.7 L91.9,510.4 L98.7,521.0 L105.4,519.8 L112.2,517.5 L119.0,514.6 L125.8,494.9 L132.6,489.0 L139.3,483.8 L146.1,491.4 L152.9,481.9 L159.7,493.3 L166.5,478.3 L173.2,464.6 L180.0,471.7 L186.8,467.7 L193.6,464.1 L200.4,460.1 L207.1,467.7 L213.9,486.6 L220.7,494.5 L227.5,497.3 L234.3,489.0 L241.0,492.6 L247.8,477.6 L254.6,476.0 L261.4,473.6 L268.2,464.1 L274.9,444.0 L281.7,439.7 L288.5,448.7 L295.3,441.1 L302.1,484.3 L308.8,473.6 L315.6,471.2 L322.4,480.2 L329.2,475.3 L336.0,487.1 L342.7,472.4 L349.5,483.1 L356.3,479.5 L363.1,484.8 L369.9,494.9 L376.6,517.9 L383.4,510.8 L390.2,516.3 L397.0,536.0 L403.8,519.1 L410.5,521.0 L417.3,525.1 L424.1,522.2 L430.9,514.6 L437.7,511.5 L444.4,508.0 L451.2,514.4 L458.0,513.2 L464.8,507.3 L471.6,515.1 L478.3,512.7 L485.1,524.6 L491.9,536.0 L498.7,539.5 L505.5,533.4 L512.2,535.7 L519.0,531.7 L525.8,528.1 L532.6,515.6 L539.4,525.3 L546.1,527.0 L552.9,527.0 L559.7,553.0 L566.5,565.6 L573.3,554.7 L580.0,556.1 L586.8,556.6 L593.6,560.2 L600.4,552.6 L607.2,544.7 L613.9,525.3 L620.7,528.1 L627.5,519.8 L634.3,527.4 L641.1,534.8 L647.8,536.9 L654.6,539.5 L661.4,535.7 L668.2,538.8 L675.0,540.5 L681.7,546.4 L688.5,541.2 L695.3,534.1 L702.1,527.0 L708.9,529.3 L715.6,532.2 L722.4,534.8 L729.2,540.7 L736.0,530.5 L742.8,521.7 L749.5,531.7 L756.3,536.0 L763.1,536.9 L769.9,537.2 L776.7,542.4 L783.4,520.3 L790.2,513.9 L797.0,497.3 L803.8,497.3 L810.6,509.9 L817.3,487.4 L824.1,493.0 L830.9,503.2 L837.7,513.9 L844.5,517.5 L851.2,515.1 L858.0,518.7 L864.8,509.9 L871.6,518.7 L878.4,522.2 L885.1,526.2 L891.9,526.2 L898.7,521.7 L905.5,524.6 L912.3,513.2 L919.0,508.7 L925.8,509.6 L932.6,513.2 L939.4,522.2 L946.2,533.4 L952.9,524.6 L959.7,527.4 L966.5,542.8 L973.3,524.1 L980.1,536.0 L986.8,542.8 L993.6,540.5 L1000.4,536.4 L1007.2,547.1 L1014.0,557.3 L1020.7,555.9 L1027.5,555.9 L1034.3,561.3 L1041.1,550.0 L1047.9,552.6 L1054.6,554.2 L1061.4,534.1 L1068.2,539.5 L1075.0,530.5 L1081.8,536.4 L1088.5,537.2 L1095.3,524.6 L1102.1,512.7 L1108.9,496.8 L1115.7,508.5 L1122.4,542.4 L1129.2,549.0 L1136.0,529.3 L1142.8,541.9 L1149.6,524.6 L1156.3,518.7 L1163.1,509.9 L1169.9,504.4 L1176.7,492.1 L1183.5,479.5 L1190.2,487.1 L1197.0,480.2 L1203.8,485.5 L1210.6,487.8 L1217.4,498.0 L1224.1,488.5 L1230.9,490.7 L1237.7,484.8 L1244.5,498.5 L1251.3,512.3 L1258.0,515.1 L1264.8,522.2 L1271.6,506.1 L1278.4,506.1 L1285.2,513.4 L1291.9,516.3 L1298.7,517.5 L1305.5,526.2 L1312.3,522.7 L1319.1,541.2 L1325.8,540.0 L1332.6,551.9 L1339.4,564.4 L1346.2,545.9 L1353.0,549.0 L1359.7,527.4 L1366.5,528.6 L1373.3,530.5 L1380.1,540.0 L1386.9,530.0 L1393.6,529.8 L1400.4,532.2 L1407.2,538.8 L1414.0,531.2 L1414.0,462.9 L17.3,462.9 Z" fill="url(#obg)" clip-path="url(#ob)"/>
<path d="M17.3,535.3 L24.1,535.3 L30.9,539.3 L37.6,528.1 L44.4,527.0 L51.2,524.6 L58.0,503.2 L64.8,510.8 L71.5,518.2 L78.3,512.7 L85.1,508.7 L91.9,510.4 L98.7,521.0 L105.4,519.8 L112.2,517.5 L119.0,514.6 L125.8,494.9 L132.6,489.0 L139.3,483.8 L146.1,491.4 L152.9,481.9 L159.7,493.3 L166.5,478.3 L173.2,464.6 L180.0,471.7 L186.8,467.7 L193.6,464.1 L200.4,460.1 L207.1,467.7 L213.9,486.6 L220.7,494.5 L227.5,497.3 L234.3,489.0 L241.0,492.6 L247.8,477.6 L254.6,476.0 L261.4,473.6 L268.2,464.1 L274.9,444.0 L281.7,439.7 L288.5,448.7 L295.3,441.1 L302.1,484.3 L308.8,473.6 L315.6,471.2 L322.4,480.2 L329.2,475.3 L336.0,487.1 L342.7,472.4 L349.5,483.1 L356.3,479.5 L363.1,484.8 L369.9,494.9 L376.6,517.9 L383.4,510.8 L390.2,516.3 L397.0,536.0 L403.8,519.1 L410.5,521.0 L417.3,525.1 L424.1,522.2 L430.9,514.6 L437.7,511.5 L444.4,508.0 L451.2,514.4 L458.0,513.2 L464.8,507.3 L471.6,515.1 L478.3,512.7 L485.1,524.6 L491.9,536.0 L498.7,539.5 L505.5,533.4 L512.2,535.7 L519.0,531.7 L525.8,528.1 L532.6,515.6 L539.4,525.3 L546.1,527.0 L552.9,527.0 L559.7,553.0 L566.5,565.6 L573.3,554.7 L580.0,556.1 L586.8,556.6 L593.6,560.2 L600.4,552.6 L607.2,544.7 L613.9,525.3 L620.7,528.1 L627.5,519.8 L634.3,527.4 L641.1,534.8 L647.8,536.9 L654.6,539.5 L661.4,535.7 L668.2,538.8 L675.0,540.5 L681.7,546.4 L688.5,541.2 L695.3,534.1 L702.1,527.0 L708.9,529.3 L715.6,532.2 L722.4,534.8 L729.2,540.7 L736.0,530.5 L742.8,521.7 L749.5,531.7 L756.3,536.0 L763.1,536.9 L769.9,537.2 L776.7,542.4 L783.4,520.3 L790.2,513.9 L797.0,497.3 L803.8,497.3 L810.6,509.9 L817.3,487.4 L824.1,493.0 L830.9,503.2 L837.7,513.9 L844.5,517.5 L851.2,515.1 L858.0,518.7 L864.8,509.9 L871.6,518.7 L878.4,522.2 L885.1,526.2 L891.9,526.2 L898.7,521.7 L905.5,524.6 L912.3,513.2 L919.0,508.7 L925.8,509.6 L932.6,513.2 L939.4,522.2 L946.2,533.4 L952.9,524.6 L959.7,527.4 L966.5,542.8 L973.3,524.1 L980.1,536.0 L986.8,542.8 L993.6,540.5 L1000.4,536.4 L1007.2,547.1 L1014.0,557.3 L1020.7,555.9 L1027.5,555.9 L1034.3,561.3 L1041.1,550.0 L1047.9,552.6 L1054.6,554.2 L1061.4,534.1 L1068.2,539.5 L1075.0,530.5 L1081.8,536.4 L1088.5,537.2 L1095.3,524.6 L1102.1,512.7 L1108.9,496.8 L1115.7,508.5 L1122.4,542.4 L1129.2,549.0 L1136.0,529.3 L1142.8,541.9 L1149.6,524.6 L1156.3,518.7 L1163.1,509.9 L1169.9,504.4 L1176.7,492.1 L1183.5,479.5 L1190.2,487.1 L1197.0,480.2 L1203.8,485.5 L1210.6,487.8 L1217.4,498.0 L1224.1,488.5 L1230.9,490.7 L1237.7,484.8 L1244.5,498.5 L1251.3,512.3 L1258.0,515.1 L1264.8,522.2 L1271.6,506.1 L1278.4,506.1 L1285.2,513.4 L1291.9,516.3 L1298.7,517.5 L1305.5,526.2 L1312.3,522.7 L1319.1,541.2 L1325.8,540.0 L1332.6,551.9 L1339.4,564.4 L1346.2,545.9 L1353.0,549.0 L1359.7,527.4 L1366.5,528.6 L1373.3,530.5 L1380.1,540.0 L1386.9,530.0 L1393.6,529.8 L1400.4,532.2 L1407.2,538.8 L1414.0,531.2" fill="none" stroke="#7e57c2" stroke-width="1.8" stroke-linejoin="round"/>
<path d="M16.4,519.8 C18.7,520.6 25.9,523.4 30.6,524.6 C35.3,525.8 39.7,526.8 44.8,527.0 C50.0,527.2 55.9,526.2 61.4,525.8 C67.0,525.3 72.9,524.7 78.0,524.1 C83.2,523.5 87.5,522.8 92.2,522.2 C97.0,521.6 102.1,521.0 106.5,520.3 C110.8,519.6 114.0,519.3 118.3,517.9 C122.7,516.6 127.8,514.1 132.6,512.3 C137.3,510.4 142.0,508.2 146.8,506.8 C151.5,505.4 156.3,505.4 161.0,504.0 C165.7,502.5 170.5,500.2 175.2,498.0 C180.0,495.9 185.1,493.4 189.5,490.9 C193.8,488.4 197.4,485.2 201.3,483.1 C205.3,481.0 208.8,479.1 213.2,478.3 C217.5,477.6 222.9,478.6 227.4,478.8 C231.9,479.0 235.5,479.7 240.0,479.5 C244.5,479.3 249.5,478.0 254.2,477.6 C259.0,477.2 263.7,477.8 268.5,477.2 C273.2,476.5 277.9,474.5 282.7,473.6 C287.4,472.7 292.2,472.3 296.9,471.7 C301.6,471.1 306.4,470.6 311.1,470.1 C315.9,469.5 320.6,468.7 325.4,468.2 C330.1,467.6 334.8,467.0 339.6,467.0 C344.3,466.9 349.9,467.3 353.8,467.7 C357.8,468.1 360.1,468.1 363.3,469.3 C366.5,470.6 369.6,473.2 372.8,475.3 C375.9,477.4 378.7,479.4 382.3,481.9 C385.8,484.4 390.2,487.8 394.1,490.2 C398.1,492.6 401.6,494.0 406.0,496.1 C410.3,498.3 415.5,501.2 420.2,503.2 C424.9,505.3 429.7,506.8 434.4,508.5 C439.2,510.1 443.3,511.9 448.7,513.2 C454.0,514.5 460.9,515.9 466.4,516.5 C472.0,517.2 477.3,516.8 481.9,517.0 C486.4,517.2 489.8,517.5 493.7,517.9 C497.7,518.4 501.6,519.3 505.6,519.8 C509.5,520.4 513.5,520.6 517.4,521.0 C521.4,521.5 525.3,522.1 529.3,522.7 C533.2,523.3 537.2,524.1 541.1,524.6 C545.1,525.1 549.0,524.8 553.0,525.8 C556.9,526.8 560.9,528.7 564.8,530.5 C568.8,532.3 572.7,534.9 576.7,536.4 C580.7,537.9 584.6,538.6 588.6,539.5 C592.5,540.4 596.5,541.4 600.4,541.9 C604.4,542.4 608.3,542.4 612.3,542.4 C616.2,542.4 620.2,541.8 624.1,541.9 C628.1,542.0 631.4,542.6 636.0,542.8 C640.5,543.1 646.6,543.6 651.4,543.2 C656.1,542.8 660.3,541.2 664.4,540.5 C668.6,539.7 672.3,539.5 676.3,538.8 C680.2,538.1 684.2,537.2 688.1,536.4 C692.1,535.7 696.0,534.4 700.0,534.1 C704.0,533.8 707.3,534.2 711.9,534.5 C716.4,534.9 722.1,536.1 727.3,536.2 C732.4,536.3 737.3,535.5 742.7,535.3 C748.0,535.0 753.7,534.7 759.3,534.5 C764.8,534.3 770.7,534.6 775.9,534.1 C781.0,533.5 785.8,532.3 790.1,531.2 C794.4,530.2 798.4,528.7 802.0,527.7 C805.5,526.7 807.9,526.6 811.4,525.3 C815.0,524.0 819.7,521.3 823.3,519.8 C826.9,518.3 829.6,517.0 832.8,516.3 C835.9,515.6 838.7,516.2 842.3,515.6 C845.8,515.0 849.6,513.8 854.1,512.7 C858.7,511.6 864.8,509.5 869.5,508.9 C874.3,508.3 878.0,508.5 882.6,509.2 C887.1,509.9 892.5,512.2 896.8,513.2 C901.1,514.2 905.1,514.5 908.7,515.1 C912.2,515.7 914.6,516.6 918.1,517.0 C921.7,517.4 926.0,517.1 930.0,517.5 C934.0,517.8 937.9,518.7 941.9,519.1 C945.8,519.6 949.8,519.7 953.7,520.3 C957.7,520.9 961.6,522.2 965.6,522.7 C969.5,523.2 973.5,522.9 977.4,523.4 C981.4,523.9 985.3,525.1 989.3,525.8 C993.2,526.4 997.2,526.2 1001.1,527.4 C1005.1,528.6 1009.0,531.1 1013.0,532.9 C1016.9,534.7 1021.3,536.9 1024.8,538.3 C1028.4,539.8 1031.2,540.7 1034.3,541.7 C1037.5,542.6 1040.7,543.2 1043.8,544.0 C1047.0,544.9 1049.3,546.0 1053.3,546.6 C1057.2,547.2 1062.8,547.6 1067.5,547.6 C1072.3,547.6 1076.4,547.2 1081.7,546.6 C1087.1,546.0 1094.8,545.3 1099.5,544.0 C1104.3,542.7 1106.8,540.3 1110.2,538.8 C1113.6,537.3 1116.1,536.2 1119.7,535.3 C1123.2,534.3 1127.6,534.0 1131.5,533.4 C1135.5,532.7 1139.0,532.2 1143.4,531.2 C1147.7,530.3 1152.9,529.0 1157.6,527.5 C1162.4,526.1 1167.5,524.5 1171.9,522.7 C1176.2,520.9 1179.8,518.4 1183.7,516.8 C1187.7,515.1 1191.6,513.7 1195.6,512.7 C1199.5,511.7 1203.9,511.8 1207.4,510.8 C1211.0,509.8 1213.7,508.4 1216.9,506.8 C1220.1,505.2 1222.8,503.3 1226.4,501.3 C1229.9,499.4 1234.3,496.3 1238.2,494.9 C1242.2,493.6 1246.5,493.5 1250.1,493.3 C1253.7,493.1 1256.0,493.4 1259.6,493.8 C1263.1,494.2 1267.5,494.8 1271.4,495.7 C1275.4,496.5 1279.3,497.8 1283.3,499.0 C1287.2,500.2 1290.6,501.3 1295.2,502.8 C1299.7,504.2 1305.4,505.6 1310.6,507.6 C1315.7,509.7 1321.4,512.5 1326.0,515.1 C1330.5,517.7 1333.9,521.1 1337.8,523.4 C1341.8,525.7 1345.9,527.4 1349.7,528.6 C1353.5,529.9 1357.1,530.1 1360.8,531.0 C1364.5,531.9 1368.0,533.2 1371.9,534.1 C1375.7,534.9 1379.8,535.4 1383.7,536.0 C1387.7,536.6 1390.5,537.1 1395.6,537.6 C1400.6,538.1 1411.1,538.8 1414.2,539.0" fill="none" stroke="#ffeb3b" stroke-width="2" stroke-linejoin="round"/>
<circle cx="1414.3" cy="365.3" r="15.4" fill="#fff" stroke="#9c27b0" stroke-width="1.9"/>
<path d="M1410.2,373.8 L1414.2,370.6" stroke="#9c27b0" stroke-width="1.8" fill="none"/>
<circle cx="1413.6" cy="403.9" r="15.8" fill="#fff" stroke="#f23645" stroke-width="2"/><clipPath id="f1"><circle cx="1413.6" cy="403.9" r="12"/></clipPath><g clip-path="url(#f1)"><rect x="1401.6" y="391.9" width="24" height="24" fill="#fff"/><rect x="1401.6" y="391.9" width="24" height="5.3" fill="#ef5350"/><rect x="1401.6" y="400.8" width="24" height="5.9" fill="#ef5350"/><rect x="1401.6" y="410.0" width="24" height="5.9" fill="#ef5350"/><rect x="1401.6" y="391.9" width="15" height="14.8" fill="#2f80ed"/><rect x="1403.8" y="393.9" width="1.6" height="1.6" fill="#fff" fill-opacity="0.9"/><rect x="1403.8" y="398.1" width="1.6" height="1.6" fill="#fff" fill-opacity="0.9"/><rect x="1403.8" y="402.1" width="1.6" height="1.6" fill="#fff" fill-opacity="0.9"/><rect x="1408.0" y="393.9" width="1.6" height="1.6" fill="#fff" fill-opacity="0.9"/><rect x="1408.0" y="398.1" width="1.6" height="1.6" fill="#fff" fill-opacity="0.9"/><rect x="1408.0" y="402.1" width="1.6" height="1.6" fill="#fff" fill-opacity="0.9"/><rect x="1412.1" y="393.9" width="1.6" height="1.6" fill="#fff" fill-opacity="0.9"/><rect x="1412.1" y="398.1" width="1.6" height="1.6" fill="#fff" fill-opacity="0.9"/><rect x="1412.1" y="402.1" width="1.6" height="1.6" fill="#fff" fill-opacity="0.9"/></g>
<circle cx="1448.2" cy="403.9" r="15.8" fill="#fff" stroke="#f23645" stroke-width="2"/><clipPath id="f2"><circle cx="1448.2" cy="403.9" r="12"/></clipPath><g clip-path="url(#f2)"><rect x="1436.2" y="391.9" width="24" height="24" fill="#fff"/><rect x="1436.2" y="391.9" width="24" height="5.3" fill="#ef5350"/><rect x="1436.2" y="400.8" width="24" height="5.9" fill="#ef5350"/><rect x="1436.2" y="410.0" width="24" height="5.9" fill="#ef5350"/><rect x="1436.2" y="391.9" width="15" height="14.8" fill="#2f80ed"/><rect x="1438.4" y="393.9" width="1.6" height="1.6" fill="#fff" fill-opacity="0.9"/><rect x="1438.4" y="398.1" width="1.6" height="1.6" fill="#fff" fill-opacity="0.9"/><rect x="1438.4" y="402.1" width="1.6" height="1.6" fill="#fff" fill-opacity="0.9"/><rect x="1442.6" y="393.9" width="1.6" height="1.6" fill="#fff" fill-opacity="0.9"/><rect x="1442.6" y="398.1" width="1.6" height="1.6" fill="#fff" fill-opacity="0.9"/><rect x="1442.6" y="402.1" width="1.6" height="1.6" fill="#fff" fill-opacity="0.9"/><rect x="1446.7" y="393.9" width="1.6" height="1.6" fill="#fff" fill-opacity="0.9"/><rect x="1446.7" y="398.1" width="1.6" height="1.6" fill="#fff" fill-opacity="0.9"/><rect x="1446.7" y="402.1" width="1.6" height="1.6" fill="#fff" fill-opacity="0.9"/></g>
</svg>
<div class="t" id="l1a" style="left:28px;top:55px;letter-spacing:-0.366px;">Cardano / US Dollar, 1D, BINANCE</div>
<div class="t" id="l1b" style="left:306.4px;top:55px;">O</div><div class="t" id="l1b2" style="left:320.3px;top:55px;color:#089981">0.325</div>
<div class="t" id="l1c" style="left:375px;top:55px;">H</div><div class="t" id="l1c2" style="left:387.4px;top:55px;color:#089981">0.345</div>
<div class="t" id="l1d" style="left:442.5px;top:55px;">L</div><div class="t" id="l1d2" style="left:452.8px;top:55px;color:#089981">0.320</div>
<div class="t" id="l1e" style="left:505.6px;top:55px;">C</div><div class="t" id="l1e2" style="left:517.9px;top:55px;color:#089981">0.333</div>
<div class="t" id="l1f" style="left:573px;top:55px;color:#089981;letter-spacing:-0.15px;">+0.008 (+2.46%)</div>
<div class="t" id="l2a" style="left:28px;top:81px;">EMA 20<i>/</i>50<i>/</i>100<i>/</i>200</div>
<div class="t" id="l2b" style="left:203.5px;top:81px;color:#ff0000">0.353</div>
<div class="t" id="l2c" style="left:258.5px;top:81px;color:#ff8000">0.380</div>
<div class="t" id="l2d" style="left:313px;top:81px;color:#00ffff">0.413</div>
<div class="t" id="l2e" style="left:367.5px;top:81px;color:#0000ff">0.442</div>
<div class="t" id="l3a" style="left:28px;top:438px;letter-spacing:-0.23px;">RSI (14, close)</div>
<div class="t" id="l3b" style="left:152.5px;top:438px;color:#7e57c2">40.29</div>
<div class="t" id="l3c" style="left:207px;top:438px;color:#ffeb3b">37.18</div>
<div class="t nl" id="l3d" style="left:268.9px;">∅</div>
<div class="t nl" id="l3e" style="left:294.0px;">∅</div>
<div class="t nl" id="l3f" style="left:319.2px;">∅</div>
<div class="t nl" id="l3g" style="left:344.3px;">∅</div>

<div class="ax" style="top:75.5px;">0.800</div>
<div class="ax" style="top:133.5px;">0.700</div>
<div class="ax" style="top:192px;">0.600</div>
<div class="ax" style="top:428.7px;">80.00</div>
<div class="ax" style="top:475.2px;">60.00</div>

<div class="lbl" style="top:242px;background:#0000ff;"><span>0.442</span></div>
<div class="lbl" style="top:268px;background:#00ffff;color:#131722;height:26.5px;"><span>0.413</span></div>
<div class="lbl" style="top:294.5px;background:#ff8000;"><span>0.380</span></div>
<div class="lbl" style="top:320.5px;background:#ff0000;"><span>0.353</span></div>
<div class="lbl" style="top:345px;background:#089981;width:92.5px;height:48px;"><span style="top:0.4px">0.333</span><span style="top:21.8px;opacity:.72">04:28:50</span></div>
<div class="lbl" style="left:1400px;top:345px;width:84px;height:26.3px;background:#089981;border-radius:3px 0 0 3px;"><span style="left:7.5px;top:0.3px;letter-spacing:-0.9px;">ADAUSD</span></div>
<div class="lbl" style="top:518.7px;background:#7e57c2;height:25.8px;"><span>40.29</span></div>
<div class="lbl" style="top:544.7px;background:#ffeb3b;color:#131722;"><span>37.18</span></div>

<div class="mon" style="left:78px;letter-spacing:-0.8px;">Feb</div>
<div class="mon" style="left:274.7px;letter-spacing:-0.2px;">Mar</div>
<div class="mon" style="left:485px;letter-spacing:-0.7px;">Apr</div>
<div class="mon" style="left:688.5px;letter-spacing:-0.3px;">May</div>
<div class="mon" style="left:898.7px;letter-spacing:-0.85px;">Jun</div>
<div class="mon" style="left:1102px;letter-spacing:-0.5px;">Jul</div>
<div class="mon" style="left:1312.3px;letter-spacing:-0.95px;">Aug</div>
<div class="mon" style="left:1434.3px;font-weight:normal;">19</div>

<svg style="position:absolute;left:16px;top:641px;" width="29" height="15" viewBox="0 4 36 18.6"><path fill="#131722" d="M14 22H7V11H0V4h14v18zM28 22h-8l7.5-18h8L28 22z"/><circle cx="20" cy="8" r="4" fill="#131722"/></svg>
<div class="t" id="tv" style="left:50.5px;top:637.5px;font-size:19px;line-height:24px;letter-spacing:0.22px;">TradingView</div>
</body></html>
